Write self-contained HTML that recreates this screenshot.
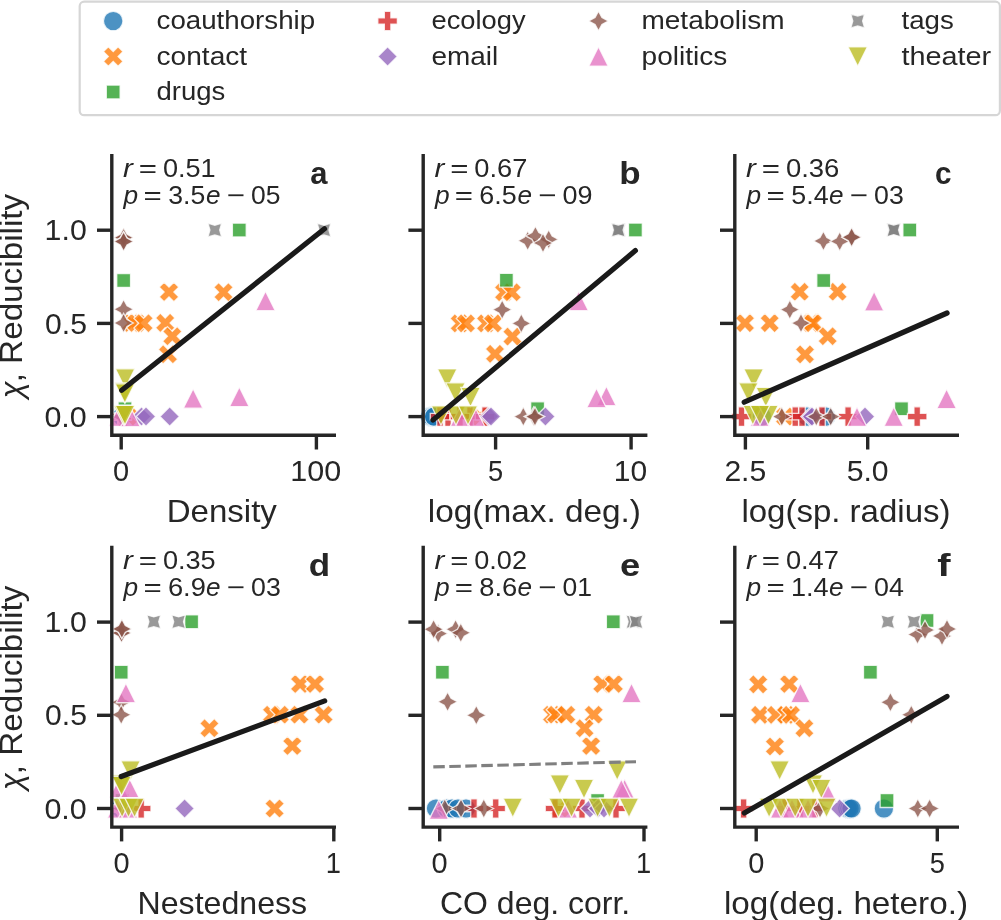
<!DOCTYPE html><html><head><meta charset="utf-8"><style>html,body{margin:0;padding:0;background:#fff;}svg{display:block;} svg text{-webkit-font-smoothing:antialiased;}text{font-family:"Liberation Sans",sans-serif;}</style></head><body>
<svg width="1001" height="920" viewBox="0 0 1001 920" style="will-change:transform">
<rect width="1001" height="920" fill="#fff"/>
<rect x="79.7" y="1.6" width="920.2" height="113.6" rx="4.5" ry="4.5" fill="#fff" stroke="#d6d6d6" stroke-width="2.2"/>
<path d="M113.20 30.75C115.79 30.75 118.27 29.72 120.09 27.89C121.92 26.07 122.95 23.59 122.95 21.00C122.95 18.41 121.92 15.93 120.09 14.11C118.27 12.28 115.79 11.25 113.20 11.25C110.61 11.25 108.13 12.28 106.31 14.11C104.48 15.93 103.45 18.41 103.45 21.00C103.45 23.59 104.48 26.07 106.31 27.89C108.13 29.72 110.61 30.75 113.20 30.75Z" fill="#1f77b4" fill-opacity="0.8" stroke="#fff" stroke-opacity="0.8" stroke-width="1.3" stroke-linejoin="miter"/>
<text x="156.58" y="29.30" font-size="25.62" textLength="158.53" lengthAdjust="spacingAndGlyphs" fill="#262626">coauthorship</text>
<path d="M108.33 66.25L113.20 61.38L118.08 66.25L122.95 61.38L118.08 56.50L122.95 51.62L118.08 46.75L113.20 51.62L108.33 46.75L103.45 51.62L108.33 56.50L103.45 61.38Z" fill="#ff7f0e" fill-opacity="0.8" stroke="#fff" stroke-opacity="0.8" stroke-width="1.3" stroke-linejoin="miter"/>
<text x="156.57" y="64.80" font-size="25.62" textLength="90.61" lengthAdjust="spacingAndGlyphs" fill="#262626">contact</text>
<path d="M106.31 85.11L106.31 98.89L120.09 98.89L120.09 85.11Z" fill="#2ca02c" fill-opacity="0.8" stroke="#fff" stroke-opacity="0.8" stroke-width="1.3" stroke-linejoin="miter"/>
<text x="156.59" y="100.30" font-size="25.62" textLength="68.75" lengthAdjust="spacingAndGlyphs" fill="#262626">drugs</text>
<path d="M384.35 30.75L390.85 30.75L390.85 24.25L397.35 24.25L397.35 17.75L390.85 17.75L390.85 11.25L384.35 11.25L384.35 17.75L377.85 17.75L377.85 24.25L384.35 24.25Z" fill="#d62728" fill-opacity="0.8" stroke="#fff" stroke-opacity="0.8" stroke-width="1.3" stroke-linejoin="miter"/>
<text x="431.50" y="29.30" font-size="25.62" textLength="94.03" lengthAdjust="spacingAndGlyphs" fill="#262626">ecology</text>
<path d="M387.60 46.75L377.85 56.50L387.60 66.25L397.35 56.50Z" fill="#9467bd" fill-opacity="0.8" stroke="#fff" stroke-opacity="0.8" stroke-width="1.3" stroke-linejoin="miter"/>
<text x="431.47" y="64.80" font-size="25.62" textLength="66.74" lengthAdjust="spacingAndGlyphs" fill="#262626">email</text>
<path d="M598.50 11.25L595.05 17.55L588.75 21.00L595.05 24.45L598.50 30.75L601.95 24.45L608.25 21.00L601.95 17.55Z" fill="#8c564b" fill-opacity="0.8" stroke="#fff" stroke-opacity="0.8" stroke-width="1.3" stroke-linejoin="miter"/>
<text x="641.49" y="29.30" font-size="25.62" textLength="143.09" lengthAdjust="spacingAndGlyphs" fill="#262626">metabolism</text>
<path d="M598.50 46.75L588.75 66.25L608.25 66.25Z" fill="#e377c2" fill-opacity="0.8" stroke="#fff" stroke-opacity="0.8" stroke-width="1.3" stroke-linejoin="miter"/>
<text x="641.62" y="64.80" font-size="25.62" textLength="85.70" lengthAdjust="spacingAndGlyphs" fill="#262626">politics</text>
<path d="M850.81 14.11L852.83 21.00L850.81 27.89L857.70 25.88L864.59 27.89L862.58 21.00L864.59 14.11L857.70 16.12Z" fill="#7f7f7f" fill-opacity="0.8" stroke="#fff" stroke-opacity="0.8" stroke-width="1.3" stroke-linejoin="miter"/>
<text x="901.50" y="29.30" font-size="25.62" textLength="52.29" lengthAdjust="spacingAndGlyphs" fill="#262626">tags</text>
<path d="M857.70 66.25L867.45 46.75L847.95 46.75Z" fill="#bcbd22" fill-opacity="0.8" stroke="#fff" stroke-opacity="0.8" stroke-width="1.3" stroke-linejoin="miter"/>
<text x="901.48" y="64.80" font-size="25.62" textLength="89.75" lengthAdjust="spacingAndGlyphs" fill="#262626">theater</text>
<path d="M119.50 426.35C122.09 426.35 124.57 425.32 126.39 423.49C128.22 421.67 129.25 419.19 129.25 416.60C129.25 414.01 128.22 411.53 126.39 409.71C124.57 407.88 122.09 406.85 119.50 406.85C116.91 406.85 114.43 407.88 112.61 409.71C110.78 411.53 109.75 414.01 109.75 416.60C109.75 419.19 110.78 421.67 112.61 423.49C114.43 425.32 116.91 426.35 119.50 426.35Z" fill="#1f77b4" fill-opacity="0.8" stroke="#fff" stroke-opacity="0.8" stroke-width="1.3" stroke-linejoin="miter"/>
<path d="M121.20 426.35C123.79 426.35 126.27 425.32 128.09 423.49C129.92 421.67 130.95 419.19 130.95 416.60C130.95 414.01 129.92 411.53 128.09 409.71C126.27 407.88 123.79 406.85 121.20 406.85C118.61 406.85 116.13 407.88 114.31 409.71C112.48 411.53 111.45 414.01 111.45 416.60C111.45 419.19 112.48 421.67 114.31 423.49C116.13 425.32 118.61 426.35 121.20 426.35Z" fill="#1f77b4" fill-opacity="0.8" stroke="#fff" stroke-opacity="0.8" stroke-width="1.3" stroke-linejoin="miter"/>
<path d="M122.50 426.35C125.09 426.35 127.57 425.32 129.39 423.49C131.22 421.67 132.25 419.19 132.25 416.60C132.25 414.01 131.22 411.53 129.39 409.71C127.57 407.88 125.09 406.85 122.50 406.85C119.91 406.85 117.43 407.88 115.61 409.71C113.78 411.53 112.75 414.01 112.75 416.60C112.75 419.19 113.78 421.67 115.61 423.49C117.43 425.32 119.91 426.35 122.50 426.35Z" fill="#1f77b4" fill-opacity="0.8" stroke="#fff" stroke-opacity="0.8" stroke-width="1.3" stroke-linejoin="miter"/>
<path d="M121.80 426.35C124.39 426.35 126.87 425.32 128.69 423.49C130.52 421.67 131.55 419.19 131.55 416.60C131.55 414.01 130.52 411.53 128.69 409.71C126.87 407.88 124.39 406.85 121.80 406.85C119.21 406.85 116.73 407.88 114.91 409.71C113.08 411.53 112.05 414.01 112.05 416.60C112.05 419.19 113.08 421.67 114.91 423.49C116.73 425.32 119.21 426.35 121.80 426.35Z" fill="#1f77b4" fill-opacity="0.8" stroke="#fff" stroke-opacity="0.8" stroke-width="1.3" stroke-linejoin="miter"/>
<path d="M164.12 301.75L169.00 296.88L173.88 301.75L178.75 296.88L173.88 292.00L178.75 287.12L173.88 282.25L169.00 287.12L164.12 282.25L159.25 287.12L164.12 292.00L159.25 296.88Z" fill="#ff7f0e" fill-opacity="0.8" stroke="#fff" stroke-opacity="0.8" stroke-width="1.3" stroke-linejoin="miter"/>
<path d="M218.62 301.95L223.50 297.07L228.38 301.95L233.25 297.07L228.38 292.20L233.25 287.32L228.38 282.45L223.50 287.32L218.62 282.45L213.75 287.32L218.62 292.20L213.75 297.07Z" fill="#ff7f0e" fill-opacity="0.8" stroke="#fff" stroke-opacity="0.8" stroke-width="1.3" stroke-linejoin="miter"/>
<path d="M126.62 332.75L131.50 327.88L136.38 332.75L141.25 327.88L136.38 323.00L141.25 318.12L136.38 313.25L131.50 318.12L126.62 313.25L121.75 318.12L126.62 323.00L121.75 327.88Z" fill="#ff7f0e" fill-opacity="0.8" stroke="#fff" stroke-opacity="0.8" stroke-width="1.3" stroke-linejoin="miter"/>
<path d="M131.53 332.75L136.40 327.88L141.28 332.75L146.15 327.88L141.28 323.00L146.15 318.12L141.28 313.25L136.40 318.12L131.53 313.25L126.65 318.12L131.53 323.00L126.65 327.88Z" fill="#ff7f0e" fill-opacity="0.8" stroke="#fff" stroke-opacity="0.8" stroke-width="1.3" stroke-linejoin="miter"/>
<path d="M138.72 332.95L143.60 328.07L148.47 332.95L153.35 328.07L148.47 323.20L153.35 318.32L148.47 313.45L143.60 318.32L138.72 313.45L133.85 318.32L138.72 323.20L133.85 328.07Z" fill="#ff7f0e" fill-opacity="0.8" stroke="#fff" stroke-opacity="0.8" stroke-width="1.3" stroke-linejoin="miter"/>
<path d="M160.32 332.65L165.20 327.77L170.07 332.65L174.95 327.77L170.07 322.90L174.95 318.02L170.07 313.15L165.20 318.02L160.32 313.15L155.45 318.02L160.32 322.90L155.45 327.77Z" fill="#ff7f0e" fill-opacity="0.8" stroke="#fff" stroke-opacity="0.8" stroke-width="1.3" stroke-linejoin="miter"/>
<path d="M167.43 346.05L172.30 341.18L177.18 346.05L182.05 341.18L177.18 336.30L182.05 331.43L177.18 326.55L172.30 331.43L167.43 326.55L162.55 331.43L167.43 336.30L162.55 341.18Z" fill="#ff7f0e" fill-opacity="0.8" stroke="#fff" stroke-opacity="0.8" stroke-width="1.3" stroke-linejoin="miter"/>
<path d="M163.12 364.05L168.00 359.18L172.88 364.05L177.75 359.18L172.88 354.30L177.75 349.43L172.88 344.55L168.00 349.43L163.12 344.55L158.25 349.43L163.12 354.30L158.25 359.18Z" fill="#ff7f0e" fill-opacity="0.8" stroke="#fff" stroke-opacity="0.8" stroke-width="1.3" stroke-linejoin="miter"/>
<path d="M123.12 426.35L128.00 421.48L132.88 426.35L137.75 421.48L132.88 416.60L137.75 411.73L132.88 406.85L128.00 411.73L123.12 406.85L118.25 411.73L123.12 416.60L118.25 421.48Z" fill="#ff7f0e" fill-opacity="0.8" stroke="#fff" stroke-opacity="0.8" stroke-width="1.3" stroke-linejoin="miter"/>
<path d="M232.41 223.21L232.41 236.99L246.19 236.99L246.19 223.21Z" fill="#2ca02c" fill-opacity="0.8" stroke="#fff" stroke-opacity="0.8" stroke-width="1.3" stroke-linejoin="miter"/>
<path d="M116.76 273.51L116.76 287.29L130.54 287.29L130.54 273.51Z" fill="#2ca02c" fill-opacity="0.8" stroke="#fff" stroke-opacity="0.8" stroke-width="1.3" stroke-linejoin="miter"/>
<path d="M118.11 401.81L118.11 415.59L131.89 415.59L131.89 401.81Z" fill="#2ca02c" fill-opacity="0.8" stroke="#fff" stroke-opacity="0.8" stroke-width="1.3" stroke-linejoin="miter"/>
<path d="M117.95 426.35L124.45 426.35L124.45 419.85L130.95 419.85L130.95 413.35L124.45 413.35L124.45 406.85L117.95 406.85L117.95 413.35L111.45 413.35L111.45 419.85L117.95 419.85Z" fill="#d62728" fill-opacity="0.8" stroke="#fff" stroke-opacity="0.8" stroke-width="1.3" stroke-linejoin="miter"/>
<path d="M118.25 426.35L124.75 426.35L124.75 419.85L131.25 419.85L131.25 413.35L124.75 413.35L124.75 406.85L118.25 406.85L118.25 413.35L111.75 413.35L111.75 419.85L118.25 419.85Z" fill="#d62728" fill-opacity="0.8" stroke="#fff" stroke-opacity="0.8" stroke-width="1.3" stroke-linejoin="miter"/>
<path d="M118.75 426.35L125.25 426.35L125.25 419.85L131.75 419.85L131.75 413.35L125.25 413.35L125.25 406.85L118.75 406.85L118.75 413.35L112.25 413.35L112.25 419.85L118.75 419.85Z" fill="#d62728" fill-opacity="0.8" stroke="#fff" stroke-opacity="0.8" stroke-width="1.3" stroke-linejoin="miter"/>
<path d="M117.75 426.35L124.25 426.35L124.25 419.85L130.75 419.85L130.75 413.35L124.25 413.35L124.25 406.85L117.75 406.85L117.75 413.35L111.25 413.35L111.25 419.85L117.75 419.85Z" fill="#d62728" fill-opacity="0.8" stroke="#fff" stroke-opacity="0.8" stroke-width="1.3" stroke-linejoin="miter"/>
<path d="M118.05 426.35L124.55 426.35L124.55 419.85L131.05 419.85L131.05 413.35L124.55 413.35L124.55 406.85L118.05 406.85L118.05 413.35L111.55 413.35L111.55 419.85L118.05 419.85Z" fill="#d62728" fill-opacity="0.8" stroke="#fff" stroke-opacity="0.8" stroke-width="1.3" stroke-linejoin="miter"/>
<path d="M118.35 426.35L124.85 426.35L124.85 419.85L131.35 419.85L131.35 413.35L124.85 413.35L124.85 406.85L118.35 406.85L118.35 413.35L111.85 413.35L111.85 419.85L118.35 419.85Z" fill="#d62728" fill-opacity="0.8" stroke="#fff" stroke-opacity="0.8" stroke-width="1.3" stroke-linejoin="miter"/>
<path d="M141.50 406.75L131.75 416.50L141.50 426.25L151.25 416.50Z" fill="#9467bd" fill-opacity="0.8" stroke="#fff" stroke-opacity="0.8" stroke-width="1.3" stroke-linejoin="miter"/>
<path d="M146.00 406.75L136.25 416.50L146.00 426.25L155.75 416.50Z" fill="#9467bd" fill-opacity="0.8" stroke="#fff" stroke-opacity="0.8" stroke-width="1.3" stroke-linejoin="miter"/>
<path d="M169.70 406.75L159.95 416.50L169.70 426.25L179.45 416.50Z" fill="#9467bd" fill-opacity="0.8" stroke="#fff" stroke-opacity="0.8" stroke-width="1.3" stroke-linejoin="miter"/>
<path d="M123.60 227.65L120.15 233.95L113.85 237.40L120.15 240.85L123.60 247.15L127.05 240.85L133.35 237.40L127.05 233.95Z" fill="#8c564b" fill-opacity="0.8" stroke="#fff" stroke-opacity="0.8" stroke-width="1.3" stroke-linejoin="miter"/>
<path d="M123.60 227.85L120.15 234.15L113.85 237.60L120.15 241.05L123.60 247.35L127.05 241.05L133.35 237.60L127.05 234.15Z" fill="#8c564b" fill-opacity="0.8" stroke="#fff" stroke-opacity="0.8" stroke-width="1.3" stroke-linejoin="miter"/>
<path d="M123.60 231.55L120.15 237.85L113.85 241.30L120.15 244.75L123.60 251.05L127.05 244.75L133.35 241.30L127.05 237.85Z" fill="#8c564b" fill-opacity="0.8" stroke="#fff" stroke-opacity="0.8" stroke-width="1.3" stroke-linejoin="miter"/>
<path d="M123.60 231.75L120.15 238.05L113.85 241.50L120.15 244.95L123.60 251.25L127.05 244.95L133.35 241.50L127.05 238.05Z" fill="#8c564b" fill-opacity="0.8" stroke="#fff" stroke-opacity="0.8" stroke-width="1.3" stroke-linejoin="miter"/>
<path d="M123.60 299.55L120.15 305.85L113.85 309.30L120.15 312.75L123.60 319.05L127.05 312.75L133.35 309.30L127.05 305.85Z" fill="#8c564b" fill-opacity="0.8" stroke="#fff" stroke-opacity="0.8" stroke-width="1.3" stroke-linejoin="miter"/>
<path d="M123.60 313.25L120.15 319.55L113.85 323.00L120.15 326.45L123.60 332.75L127.05 326.45L133.35 323.00L127.05 319.55Z" fill="#8c564b" fill-opacity="0.8" stroke="#fff" stroke-opacity="0.8" stroke-width="1.3" stroke-linejoin="miter"/>
<path d="M121.50 406.85L118.05 413.15L111.75 416.60L118.05 420.05L121.50 426.35L124.95 420.05L131.25 416.60L124.95 413.15Z" fill="#8c564b" fill-opacity="0.8" stroke="#fff" stroke-opacity="0.8" stroke-width="1.3" stroke-linejoin="miter"/>
<path d="M122.00 406.85L118.55 413.15L112.25 416.60L118.55 420.05L122.00 426.35L125.45 420.05L131.75 416.60L125.45 413.15Z" fill="#8c564b" fill-opacity="0.8" stroke="#fff" stroke-opacity="0.8" stroke-width="1.3" stroke-linejoin="miter"/>
<path d="M121.00 406.85L117.55 413.15L111.25 416.60L117.55 420.05L121.00 426.35L124.45 420.05L130.75 416.60L124.45 413.15Z" fill="#8c564b" fill-opacity="0.8" stroke="#fff" stroke-opacity="0.8" stroke-width="1.3" stroke-linejoin="miter"/>
<path d="M265.50 291.15L255.75 310.65L275.25 310.65Z" fill="#e377c2" fill-opacity="0.8" stroke="#fff" stroke-opacity="0.8" stroke-width="1.3" stroke-linejoin="miter"/>
<path d="M193.10 388.65L183.35 408.15L202.85 408.15Z" fill="#e377c2" fill-opacity="0.8" stroke="#fff" stroke-opacity="0.8" stroke-width="1.3" stroke-linejoin="miter"/>
<path d="M239.30 387.05L229.55 406.55L249.05 406.55Z" fill="#e377c2" fill-opacity="0.8" stroke="#fff" stroke-opacity="0.8" stroke-width="1.3" stroke-linejoin="miter"/>
<path d="M118.50 406.85L108.75 426.35L128.25 426.35Z" fill="#e377c2" fill-opacity="0.8" stroke="#fff" stroke-opacity="0.8" stroke-width="1.3" stroke-linejoin="miter"/>
<path d="M130.50 407.25L120.75 426.75L140.25 426.75Z" fill="#e377c2" fill-opacity="0.8" stroke="#fff" stroke-opacity="0.8" stroke-width="1.3" stroke-linejoin="miter"/>
<path d="M207.91 223.21L209.93 230.10L207.91 236.99L214.80 234.97L221.69 236.99L219.68 230.10L221.69 223.21L214.80 225.22Z" fill="#7f7f7f" fill-opacity="0.8" stroke="#fff" stroke-opacity="0.8" stroke-width="1.3" stroke-linejoin="miter"/>
<path d="M317.11 223.21L319.12 230.10L317.11 236.99L324.00 234.97L330.89 236.99L328.88 230.10L330.89 223.21L324.00 225.22Z" fill="#7f7f7f" fill-opacity="0.8" stroke="#fff" stroke-opacity="0.8" stroke-width="1.3" stroke-linejoin="miter"/>
<path d="M125.10 388.35L134.85 368.85L115.35 368.85Z" fill="#bcbd22" fill-opacity="0.8" stroke="#fff" stroke-opacity="0.8" stroke-width="1.3" stroke-linejoin="miter"/>
<path d="M124.40 402.35L134.15 382.85L114.65 382.85Z" fill="#bcbd22" fill-opacity="0.8" stroke="#fff" stroke-opacity="0.8" stroke-width="1.3" stroke-linejoin="miter"/>
<path d="M124.90 403.35L134.65 383.85L115.15 383.85Z" fill="#bcbd22" fill-opacity="0.8" stroke="#fff" stroke-opacity="0.8" stroke-width="1.3" stroke-linejoin="miter"/>
<path d="M124.40 424.95L134.15 405.45L114.65 405.45Z" fill="#bcbd22" fill-opacity="0.8" stroke="#fff" stroke-opacity="0.8" stroke-width="1.3" stroke-linejoin="miter"/>
<path d="M123.50 424.95L133.25 405.45L113.75 405.45Z" fill="#bcbd22" fill-opacity="0.8" stroke="#fff" stroke-opacity="0.8" stroke-width="1.3" stroke-linejoin="miter"/>
<path d="M125.00 424.95L134.75 405.45L115.25 405.45Z" fill="#bcbd22" fill-opacity="0.8" stroke="#fff" stroke-opacity="0.8" stroke-width="1.3" stroke-linejoin="miter"/>
<line x1="121.7" y1="390.3" x2="324.5" y2="228.8" stroke="#1a1a1a" stroke-width="5.2" stroke-linecap="round"/>
<path d="M111.8 155.6 L111.8 435.20000000000005 L334.3 435.20000000000005" fill="none" stroke="#262626" stroke-width="3.4" stroke-linecap="square" stroke-linejoin="miter"/>
<line x1="111.8" y1="416.60" x2="97.00" y2="416.60" stroke="#262626" stroke-width="3.4"/>
<text x="44.41" y="426.70" font-size="28.72" textLength="42.35" lengthAdjust="spacingAndGlyphs" fill="#262626">0.0</text>
<line x1="111.8" y1="323.40" x2="97.00" y2="323.40" stroke="#262626" stroke-width="3.4"/>
<text x="45.05" y="333.50" font-size="28.72" textLength="41.83" lengthAdjust="spacingAndGlyphs" fill="#262626">0.5</text>
<line x1="111.8" y1="230.20" x2="97.00" y2="230.20" stroke="#262626" stroke-width="3.4"/>
<text x="44.61" y="240.30" font-size="28.72" textLength="42.14" lengthAdjust="spacingAndGlyphs" fill="#262626">1.0</text>
<text x="123.04" y="176.50" font-size="25.62" font-style="italic" textLength="9.84" lengthAdjust="spacingAndGlyphs" fill="#262626">r</text>
<text x="138.80" y="176.50" font-size="25.62" textLength="18.26" lengthAdjust="spacingAndGlyphs" fill="#262626">=</text>
<text x="162.92" y="176.50" font-size="25.62" textLength="52.75" lengthAdjust="spacingAndGlyphs" fill="#262626">0.51</text>
<text x="123.62" y="203.50" font-size="25.62" font-style="italic" textLength="14.63" lengthAdjust="spacingAndGlyphs" fill="#262626">p</text>
<text x="143.40" y="203.50" font-size="25.62" textLength="18.26" lengthAdjust="spacingAndGlyphs" fill="#262626">=</text>
<text x="168.34" y="203.50" font-size="25.62" textLength="36.95" lengthAdjust="spacingAndGlyphs" fill="#262626">3.5</text>
<text x="206.03" y="203.50" font-size="25.62" font-style="italic" textLength="14.54" lengthAdjust="spacingAndGlyphs" fill="#262626">e</text>
<text x="227.00" y="203.50" font-size="25.62" textLength="18.26" lengthAdjust="spacingAndGlyphs" fill="#262626">−</text>
<text x="251.14" y="203.50" font-size="25.62" textLength="29.45" lengthAdjust="spacingAndGlyphs" fill="#262626">05</text>
<text x="310.31" y="184.00" font-size="31.50" font-weight="bold" textLength="17.26" lengthAdjust="spacingAndGlyphs" fill="#262626">a</text>
<path d="M121.20 818.25C123.79 818.25 126.27 817.22 128.09 815.39C129.92 813.57 130.95 811.09 130.95 808.50C130.95 805.91 129.92 803.43 128.09 801.61C126.27 799.78 123.79 798.75 121.20 798.75C118.61 798.75 116.13 799.78 114.31 801.61C112.48 803.43 111.45 805.91 111.45 808.50C111.45 811.09 112.48 813.57 114.31 815.39C116.13 817.22 118.61 818.25 121.20 818.25Z" fill="#1f77b4" fill-opacity="0.8" stroke="#fff" stroke-opacity="0.8" stroke-width="1.3" stroke-linejoin="miter"/>
<path d="M122.00 818.25C124.59 818.25 127.07 817.22 128.89 815.39C130.72 813.57 131.75 811.09 131.75 808.50C131.75 805.91 130.72 803.43 128.89 801.61C127.07 799.78 124.59 798.75 122.00 798.75C119.41 798.75 116.93 799.78 115.11 801.61C113.28 803.43 112.25 805.91 112.25 808.50C112.25 811.09 113.28 813.57 115.11 815.39C116.93 817.22 119.41 818.25 122.00 818.25Z" fill="#1f77b4" fill-opacity="0.8" stroke="#fff" stroke-opacity="0.8" stroke-width="1.3" stroke-linejoin="miter"/>
<path d="M120.50 818.25C123.09 818.25 125.57 817.22 127.39 815.39C129.22 813.57 130.25 811.09 130.25 808.50C130.25 805.91 129.22 803.43 127.39 801.61C125.57 799.78 123.09 798.75 120.50 798.75C117.91 798.75 115.43 799.78 113.61 801.61C111.78 803.43 110.75 805.91 110.75 808.50C110.75 811.09 111.78 813.57 113.61 815.39C115.43 817.22 117.91 818.25 120.50 818.25Z" fill="#1f77b4" fill-opacity="0.8" stroke="#fff" stroke-opacity="0.8" stroke-width="1.3" stroke-linejoin="miter"/>
<path d="M295.23 693.75L300.10 688.88L304.98 693.75L309.85 688.88L304.98 684.00L309.85 679.12L304.98 674.25L300.10 679.12L295.23 674.25L290.35 679.12L295.23 684.00L290.35 688.88Z" fill="#ff7f0e" fill-opacity="0.8" stroke="#fff" stroke-opacity="0.8" stroke-width="1.3" stroke-linejoin="miter"/>
<path d="M310.12 693.75L315.00 688.88L319.88 693.75L324.75 688.88L319.88 684.00L324.75 679.12L319.88 674.25L315.00 679.12L310.12 674.25L305.25 679.12L310.12 684.00L305.25 688.88Z" fill="#ff7f0e" fill-opacity="0.8" stroke="#fff" stroke-opacity="0.8" stroke-width="1.3" stroke-linejoin="miter"/>
<path d="M267.12 724.45L272.00 719.58L276.88 724.45L281.75 719.58L276.88 714.70L281.75 709.83L276.88 704.95L272.00 709.83L267.12 704.95L262.25 709.83L267.12 714.70L262.25 719.58Z" fill="#ff7f0e" fill-opacity="0.8" stroke="#fff" stroke-opacity="0.8" stroke-width="1.3" stroke-linejoin="miter"/>
<path d="M274.93 724.45L279.80 719.58L284.68 724.45L289.55 719.58L284.68 714.70L289.55 709.83L284.68 704.95L279.80 709.83L274.93 704.95L270.05 709.83L274.93 714.70L270.05 719.58Z" fill="#ff7f0e" fill-opacity="0.8" stroke="#fff" stroke-opacity="0.8" stroke-width="1.3" stroke-linejoin="miter"/>
<path d="M294.52 724.45L299.40 719.58L304.27 724.45L309.15 719.58L304.27 714.70L309.15 709.83L304.27 704.95L299.40 709.83L294.52 704.95L289.65 709.83L294.52 714.70L289.65 719.58Z" fill="#ff7f0e" fill-opacity="0.8" stroke="#fff" stroke-opacity="0.8" stroke-width="1.3" stroke-linejoin="miter"/>
<path d="M318.73 724.45L323.60 719.58L328.48 724.45L333.35 719.58L328.48 714.70L333.35 709.83L328.48 704.95L323.60 709.83L318.73 704.95L313.85 709.83L318.73 714.70L313.85 719.58Z" fill="#ff7f0e" fill-opacity="0.8" stroke="#fff" stroke-opacity="0.8" stroke-width="1.3" stroke-linejoin="miter"/>
<path d="M204.53 738.05L209.40 733.17L214.28 738.05L219.15 733.17L214.28 728.30L219.15 723.42L214.28 718.55L209.40 723.42L204.53 718.55L199.65 723.42L204.53 728.30L199.65 733.17Z" fill="#ff7f0e" fill-opacity="0.8" stroke="#fff" stroke-opacity="0.8" stroke-width="1.3" stroke-linejoin="miter"/>
<path d="M287.43 755.75L292.30 750.88L297.18 755.75L302.05 750.88L297.18 746.00L302.05 741.12L297.18 736.25L292.30 741.12L287.43 736.25L282.55 741.12L287.43 746.00L282.55 750.88Z" fill="#ff7f0e" fill-opacity="0.8" stroke="#fff" stroke-opacity="0.8" stroke-width="1.3" stroke-linejoin="miter"/>
<path d="M269.73 818.25L274.60 813.38L279.48 818.25L284.35 813.38L279.48 808.50L284.35 803.62L279.48 798.75L274.60 803.62L269.73 798.75L264.85 803.62L269.73 808.50L264.85 813.38Z" fill="#ff7f0e" fill-opacity="0.8" stroke="#fff" stroke-opacity="0.8" stroke-width="1.3" stroke-linejoin="miter"/>
<path d="M184.71 614.91L184.71 628.69L198.49 628.69L198.49 614.91Z" fill="#2ca02c" fill-opacity="0.8" stroke="#fff" stroke-opacity="0.8" stroke-width="1.3" stroke-linejoin="miter"/>
<path d="M114.31 665.31L114.31 679.09L128.09 679.09L128.09 665.31Z" fill="#2ca02c" fill-opacity="0.8" stroke="#fff" stroke-opacity="0.8" stroke-width="1.3" stroke-linejoin="miter"/>
<path d="M115.11 793.71L115.11 807.49L128.89 807.49L128.89 793.71Z" fill="#2ca02c" fill-opacity="0.8" stroke="#fff" stroke-opacity="0.8" stroke-width="1.3" stroke-linejoin="miter"/>
<path d="M137.95 818.25L144.45 818.25L144.45 811.75L150.95 811.75L150.95 805.25L144.45 805.25L144.45 798.75L137.95 798.75L137.95 805.25L131.45 805.25L131.45 811.75L137.95 811.75Z" fill="#d62728" fill-opacity="0.8" stroke="#fff" stroke-opacity="0.8" stroke-width="1.3" stroke-linejoin="miter"/>
<path d="M117.95 818.25L124.45 818.25L124.45 811.75L130.95 811.75L130.95 805.25L124.45 805.25L124.45 798.75L117.95 798.75L117.95 805.25L111.45 805.25L111.45 811.75L117.95 811.75Z" fill="#d62728" fill-opacity="0.8" stroke="#fff" stroke-opacity="0.8" stroke-width="1.3" stroke-linejoin="miter"/>
<path d="M118.75 818.25L125.25 818.25L125.25 811.75L131.75 811.75L131.75 805.25L125.25 805.25L125.25 798.75L118.75 798.75L118.75 805.25L112.25 805.25L112.25 811.75L118.75 811.75Z" fill="#d62728" fill-opacity="0.8" stroke="#fff" stroke-opacity="0.8" stroke-width="1.3" stroke-linejoin="miter"/>
<path d="M119.75 818.25L126.25 818.25L126.25 811.75L132.75 811.75L132.75 805.25L126.25 805.25L126.25 798.75L119.75 798.75L119.75 805.25L113.25 805.25L113.25 811.75L119.75 811.75Z" fill="#d62728" fill-opacity="0.8" stroke="#fff" stroke-opacity="0.8" stroke-width="1.3" stroke-linejoin="miter"/>
<path d="M118.25 818.25L124.75 818.25L124.75 811.75L131.25 811.75L131.25 805.25L124.75 805.25L124.75 798.75L118.25 798.75L118.25 805.25L111.75 805.25L111.75 811.75L118.25 811.75Z" fill="#d62728" fill-opacity="0.8" stroke="#fff" stroke-opacity="0.8" stroke-width="1.3" stroke-linejoin="miter"/>
<path d="M184.60 798.75L174.85 808.50L184.60 818.25L194.35 808.50Z" fill="#9467bd" fill-opacity="0.8" stroke="#fff" stroke-opacity="0.8" stroke-width="1.3" stroke-linejoin="miter"/>
<path d="M121.50 798.75L111.75 808.50L121.50 818.25L131.25 808.50Z" fill="#9467bd" fill-opacity="0.8" stroke="#fff" stroke-opacity="0.8" stroke-width="1.3" stroke-linejoin="miter"/>
<path d="M122.50 798.75L112.75 808.50L122.50 818.25L132.25 808.50Z" fill="#9467bd" fill-opacity="0.8" stroke="#fff" stroke-opacity="0.8" stroke-width="1.3" stroke-linejoin="miter"/>
<path d="M121.70 622.95L118.25 629.25L111.95 632.70L118.25 636.15L121.70 642.45L125.15 636.15L131.45 632.70L125.15 629.25Z" fill="#8c564b" fill-opacity="0.8" stroke="#fff" stroke-opacity="0.8" stroke-width="1.3" stroke-linejoin="miter"/>
<path d="M121.50 623.25L118.05 629.55L111.75 633.00L118.05 636.45L121.50 642.75L124.95 636.45L131.25 633.00L124.95 629.55Z" fill="#8c564b" fill-opacity="0.8" stroke="#fff" stroke-opacity="0.8" stroke-width="1.3" stroke-linejoin="miter"/>
<path d="M121.70 618.85L118.25 625.15L111.95 628.60L118.25 632.05L121.70 638.35L125.15 632.05L131.45 628.60L125.15 625.15Z" fill="#8c564b" fill-opacity="0.8" stroke="#fff" stroke-opacity="0.8" stroke-width="1.3" stroke-linejoin="miter"/>
<path d="M121.90 619.25L118.45 625.55L112.15 629.00L118.45 632.45L121.90 638.75L125.35 632.45L131.65 629.00L125.35 625.55Z" fill="#8c564b" fill-opacity="0.8" stroke="#fff" stroke-opacity="0.8" stroke-width="1.3" stroke-linejoin="miter"/>
<path d="M121.20 692.55L117.75 698.85L111.45 702.30L117.75 705.75L121.20 712.05L124.65 705.75L130.95 702.30L124.65 698.85Z" fill="#8c564b" fill-opacity="0.8" stroke="#fff" stroke-opacity="0.8" stroke-width="1.3" stroke-linejoin="miter"/>
<path d="M121.20 704.95L117.75 711.25L111.45 714.70L117.75 718.15L121.20 724.45L124.65 718.15L130.95 714.70L124.65 711.25Z" fill="#8c564b" fill-opacity="0.8" stroke="#fff" stroke-opacity="0.8" stroke-width="1.3" stroke-linejoin="miter"/>
<path d="M121.20 798.75L117.75 805.05L111.45 808.50L117.75 811.95L121.20 818.25L124.65 811.95L130.95 808.50L124.65 805.05Z" fill="#8c564b" fill-opacity="0.8" stroke="#fff" stroke-opacity="0.8" stroke-width="1.3" stroke-linejoin="miter"/>
<path d="M122.00 798.75L118.55 805.05L112.25 808.50L118.55 811.95L122.00 818.25L125.45 811.95L131.75 808.50L125.45 805.05Z" fill="#8c564b" fill-opacity="0.8" stroke="#fff" stroke-opacity="0.8" stroke-width="1.3" stroke-linejoin="miter"/>
<path d="M125.90 683.25L116.15 702.75L135.65 702.75Z" fill="#e377c2" fill-opacity="0.8" stroke="#fff" stroke-opacity="0.8" stroke-width="1.3" stroke-linejoin="miter"/>
<path d="M119.00 778.25L109.25 797.75L128.75 797.75Z" fill="#e377c2" fill-opacity="0.8" stroke="#fff" stroke-opacity="0.8" stroke-width="1.3" stroke-linejoin="miter"/>
<path d="M129.40 778.25L119.65 797.75L139.15 797.75Z" fill="#e377c2" fill-opacity="0.8" stroke="#fff" stroke-opacity="0.8" stroke-width="1.3" stroke-linejoin="miter"/>
<path d="M117.00 798.75L107.25 818.25L126.75 818.25Z" fill="#e377c2" fill-opacity="0.8" stroke="#fff" stroke-opacity="0.8" stroke-width="1.3" stroke-linejoin="miter"/>
<path d="M128.00 798.75L118.25 818.25L137.75 818.25Z" fill="#e377c2" fill-opacity="0.8" stroke="#fff" stroke-opacity="0.8" stroke-width="1.3" stroke-linejoin="miter"/>
<path d="M146.91 614.91L148.93 621.80L146.91 628.69L153.80 626.67L160.69 628.69L158.68 621.80L160.69 614.91L153.80 616.92Z" fill="#7f7f7f" fill-opacity="0.8" stroke="#fff" stroke-opacity="0.8" stroke-width="1.3" stroke-linejoin="miter"/>
<path d="M171.71 614.91L173.72 621.80L171.71 628.69L178.60 626.67L185.49 628.69L183.47 621.80L185.49 614.91L178.60 616.92Z" fill="#7f7f7f" fill-opacity="0.8" stroke="#fff" stroke-opacity="0.8" stroke-width="1.3" stroke-linejoin="miter"/>
<path d="M130.60 780.35L140.35 760.85L120.85 760.85Z" fill="#bcbd22" fill-opacity="0.8" stroke="#fff" stroke-opacity="0.8" stroke-width="1.3" stroke-linejoin="miter"/>
<path d="M121.20 794.25L130.95 774.75L111.45 774.75Z" fill="#bcbd22" fill-opacity="0.8" stroke="#fff" stroke-opacity="0.8" stroke-width="1.3" stroke-linejoin="miter"/>
<path d="M121.60 795.75L131.35 776.25L111.85 776.25Z" fill="#bcbd22" fill-opacity="0.8" stroke="#fff" stroke-opacity="0.8" stroke-width="1.3" stroke-linejoin="miter"/>
<path d="M122.10 817.65L131.85 798.15L112.35 798.15Z" fill="#bcbd22" fill-opacity="0.8" stroke="#fff" stroke-opacity="0.8" stroke-width="1.3" stroke-linejoin="miter"/>
<path d="M128.50 817.65L138.25 798.15L118.75 798.15Z" fill="#bcbd22" fill-opacity="0.8" stroke="#fff" stroke-opacity="0.8" stroke-width="1.3" stroke-linejoin="miter"/>
<path d="M134.60 817.65L144.35 798.15L124.85 798.15Z" fill="#bcbd22" fill-opacity="0.8" stroke="#fff" stroke-opacity="0.8" stroke-width="1.3" stroke-linejoin="miter"/>
<line x1="121.2" y1="776.5" x2="324.7" y2="700.9" stroke="#1a1a1a" stroke-width="5.2" stroke-linecap="round"/>
<path d="M111.8 547.5 L111.8 827.1 L334.3 827.1" fill="none" stroke="#262626" stroke-width="3.4" stroke-linecap="square" stroke-linejoin="miter"/>
<line x1="111.8" y1="808.50" x2="97.00" y2="808.50" stroke="#262626" stroke-width="3.4"/>
<text x="44.41" y="818.60" font-size="28.72" textLength="42.35" lengthAdjust="spacingAndGlyphs" fill="#262626">0.0</text>
<line x1="111.8" y1="715.30" x2="97.00" y2="715.30" stroke="#262626" stroke-width="3.4"/>
<text x="45.05" y="725.40" font-size="28.72" textLength="41.83" lengthAdjust="spacingAndGlyphs" fill="#262626">0.5</text>
<line x1="111.8" y1="622.10" x2="97.00" y2="622.10" stroke="#262626" stroke-width="3.4"/>
<text x="44.61" y="632.20" font-size="28.72" textLength="42.14" lengthAdjust="spacingAndGlyphs" fill="#262626">1.0</text>
<text x="123.04" y="569.00" font-size="25.62" font-style="italic" textLength="9.84" lengthAdjust="spacingAndGlyphs" fill="#262626">r</text>
<text x="138.80" y="569.00" font-size="25.62" textLength="18.26" lengthAdjust="spacingAndGlyphs" fill="#262626">=</text>
<text x="162.92" y="569.00" font-size="25.62" textLength="52.75" lengthAdjust="spacingAndGlyphs" fill="#262626">0.35</text>
<text x="123.62" y="596.00" font-size="25.62" font-style="italic" textLength="14.63" lengthAdjust="spacingAndGlyphs" fill="#262626">p</text>
<text x="143.40" y="596.00" font-size="25.62" textLength="18.26" lengthAdjust="spacingAndGlyphs" fill="#262626">=</text>
<text x="167.92" y="596.00" font-size="25.62" textLength="37.91" lengthAdjust="spacingAndGlyphs" fill="#262626">6.9</text>
<text x="206.03" y="596.00" font-size="25.62" font-style="italic" textLength="14.54" lengthAdjust="spacingAndGlyphs" fill="#262626">e</text>
<text x="227.00" y="596.00" font-size="25.62" textLength="18.26" lengthAdjust="spacingAndGlyphs" fill="#262626">−</text>
<text x="251.13" y="596.00" font-size="25.62" textLength="29.72" lengthAdjust="spacingAndGlyphs" fill="#262626">03</text>
<text x="308.79" y="576.20" font-size="31.50" font-weight="bold" textLength="21.36" lengthAdjust="spacingAndGlyphs" fill="#262626">d</text>
<path d="M430.00 426.35C432.59 426.35 435.07 425.32 436.89 423.49C438.72 421.67 439.75 419.19 439.75 416.60C439.75 414.01 438.72 411.53 436.89 409.71C435.07 407.88 432.59 406.85 430.00 406.85C427.41 406.85 424.93 407.88 423.11 409.71C421.28 411.53 420.25 414.01 420.25 416.60C420.25 419.19 421.28 421.67 423.11 423.49C424.93 425.32 427.41 426.35 430.00 426.35Z" fill="#1f77b4" fill-opacity="0.8" stroke="#fff" stroke-opacity="0.8" stroke-width="1.3" stroke-linejoin="miter"/>
<path d="M432.00 426.35C434.59 426.35 437.07 425.32 438.89 423.49C440.72 421.67 441.75 419.19 441.75 416.60C441.75 414.01 440.72 411.53 438.89 409.71C437.07 407.88 434.59 406.85 432.00 406.85C429.41 406.85 426.93 407.88 425.11 409.71C423.28 411.53 422.25 414.01 422.25 416.60C422.25 419.19 423.28 421.67 425.11 423.49C426.93 425.32 429.41 426.35 432.00 426.35Z" fill="#1f77b4" fill-opacity="0.8" stroke="#fff" stroke-opacity="0.8" stroke-width="1.3" stroke-linejoin="miter"/>
<path d="M434.00 426.35C436.59 426.35 439.07 425.32 440.89 423.49C442.72 421.67 443.75 419.19 443.75 416.60C443.75 414.01 442.72 411.53 440.89 409.71C439.07 407.88 436.59 406.85 434.00 406.85C431.41 406.85 428.93 407.88 427.11 409.71C425.28 411.53 424.25 414.01 424.25 416.60C424.25 419.19 425.28 421.67 427.11 423.49C428.93 425.32 431.41 426.35 434.00 426.35Z" fill="#1f77b4" fill-opacity="0.8" stroke="#fff" stroke-opacity="0.8" stroke-width="1.3" stroke-linejoin="miter"/>
<path d="M499.12 302.05L504.00 297.18L508.88 302.05L513.75 297.18L508.88 292.30L513.75 287.43L508.88 282.55L504.00 287.43L499.12 282.55L494.25 287.43L499.12 292.30L494.25 297.18Z" fill="#ff7f0e" fill-opacity="0.8" stroke="#fff" stroke-opacity="0.8" stroke-width="1.3" stroke-linejoin="miter"/>
<path d="M506.93 302.05L511.80 297.18L516.67 302.05L521.55 297.18L516.67 292.30L521.55 287.43L516.67 282.55L511.80 287.43L506.93 282.55L502.05 287.43L506.93 292.30L502.05 297.18Z" fill="#ff7f0e" fill-opacity="0.8" stroke="#fff" stroke-opacity="0.8" stroke-width="1.3" stroke-linejoin="miter"/>
<path d="M454.82 333.15L459.70 328.27L464.57 333.15L469.45 328.27L464.57 323.40L469.45 318.52L464.57 313.65L459.70 318.52L454.82 313.65L449.95 318.52L454.82 323.40L449.95 328.27Z" fill="#ff7f0e" fill-opacity="0.8" stroke="#fff" stroke-opacity="0.8" stroke-width="1.3" stroke-linejoin="miter"/>
<path d="M461.12 333.15L466.00 328.27L470.88 333.15L475.75 328.27L470.88 323.40L475.75 318.52L470.88 313.65L466.00 318.52L461.12 313.65L456.25 318.52L461.12 323.40L456.25 328.27Z" fill="#ff7f0e" fill-opacity="0.8" stroke="#fff" stroke-opacity="0.8" stroke-width="1.3" stroke-linejoin="miter"/>
<path d="M481.12 333.15L486.00 328.27L490.88 333.15L495.75 328.27L490.88 323.40L495.75 318.52L490.88 313.65L486.00 318.52L481.12 313.65L476.25 318.52L481.12 323.40L476.25 328.27Z" fill="#ff7f0e" fill-opacity="0.8" stroke="#fff" stroke-opacity="0.8" stroke-width="1.3" stroke-linejoin="miter"/>
<path d="M488.12 333.15L493.00 328.27L497.88 333.15L502.75 328.27L497.88 323.40L502.75 318.52L497.88 313.65L493.00 318.52L488.12 313.65L483.25 318.52L488.12 323.40L483.25 328.27Z" fill="#ff7f0e" fill-opacity="0.8" stroke="#fff" stroke-opacity="0.8" stroke-width="1.3" stroke-linejoin="miter"/>
<path d="M507.52 346.35L512.40 341.48L517.27 346.35L522.15 341.48L517.27 336.60L522.15 331.73L517.27 326.85L512.40 331.73L507.52 326.85L502.65 331.73L507.52 336.60L502.65 341.48Z" fill="#ff7f0e" fill-opacity="0.8" stroke="#fff" stroke-opacity="0.8" stroke-width="1.3" stroke-linejoin="miter"/>
<path d="M490.12 363.65L495.00 358.77L499.88 363.65L504.75 358.77L499.88 353.90L504.75 349.02L499.88 344.15L495.00 349.02L490.12 344.15L485.25 349.02L490.12 353.90L485.25 358.77Z" fill="#ff7f0e" fill-opacity="0.8" stroke="#fff" stroke-opacity="0.8" stroke-width="1.3" stroke-linejoin="miter"/>
<path d="M475.12 426.35L480.00 421.48L484.88 426.35L489.75 421.48L484.88 416.60L489.75 411.73L484.88 406.85L480.00 411.73L475.12 406.85L470.25 411.73L475.12 416.60L470.25 421.48Z" fill="#ff7f0e" fill-opacity="0.8" stroke="#fff" stroke-opacity="0.8" stroke-width="1.3" stroke-linejoin="miter"/>
<path d="M628.51 223.11L628.51 236.89L642.29 236.89L642.29 223.11Z" fill="#2ca02c" fill-opacity="0.8" stroke="#fff" stroke-opacity="0.8" stroke-width="1.3" stroke-linejoin="miter"/>
<path d="M499.51 273.41L499.51 287.19L513.29 287.19L513.29 273.41Z" fill="#2ca02c" fill-opacity="0.8" stroke="#fff" stroke-opacity="0.8" stroke-width="1.3" stroke-linejoin="miter"/>
<path d="M530.71 401.81L530.71 415.59L544.49 415.59L544.49 401.81Z" fill="#2ca02c" fill-opacity="0.8" stroke="#fff" stroke-opacity="0.8" stroke-width="1.3" stroke-linejoin="miter"/>
<path d="M444.75 426.35L451.25 426.35L451.25 419.85L457.75 419.85L457.75 413.35L451.25 413.35L451.25 406.85L444.75 406.85L444.75 413.35L438.25 413.35L438.25 419.85L444.75 419.85Z" fill="#d62728" fill-opacity="0.8" stroke="#fff" stroke-opacity="0.8" stroke-width="1.3" stroke-linejoin="miter"/>
<path d="M466.75 426.35L473.25 426.35L473.25 419.85L479.75 419.85L479.75 413.35L473.25 413.35L473.25 406.85L466.75 406.85L466.75 413.35L460.25 413.35L460.25 419.85L466.75 419.85Z" fill="#d62728" fill-opacity="0.8" stroke="#fff" stroke-opacity="0.8" stroke-width="1.3" stroke-linejoin="miter"/>
<path d="M481.75 426.35L488.25 426.35L488.25 419.85L494.75 419.85L494.75 413.35L488.25 413.35L488.25 406.85L481.75 406.85L481.75 413.35L475.25 413.35L475.25 419.85L481.75 419.85Z" fill="#d62728" fill-opacity="0.8" stroke="#fff" stroke-opacity="0.8" stroke-width="1.3" stroke-linejoin="miter"/>
<path d="M436.75 426.35L443.25 426.35L443.25 419.85L449.75 419.85L449.75 413.35L443.25 413.35L443.25 406.85L436.75 406.85L436.75 413.35L430.25 413.35L430.25 419.85L436.75 419.85Z" fill="#d62728" fill-opacity="0.8" stroke="#fff" stroke-opacity="0.8" stroke-width="1.3" stroke-linejoin="miter"/>
<path d="M456.75 426.35L463.25 426.35L463.25 419.85L469.75 419.85L469.75 413.35L463.25 413.35L463.25 406.85L456.75 406.85L456.75 413.35L450.25 413.35L450.25 419.85L456.75 419.85Z" fill="#d62728" fill-opacity="0.8" stroke="#fff" stroke-opacity="0.8" stroke-width="1.3" stroke-linejoin="miter"/>
<path d="M489.00 406.75L479.25 416.50L489.00 426.25L498.75 416.50Z" fill="#9467bd" fill-opacity="0.8" stroke="#fff" stroke-opacity="0.8" stroke-width="1.3" stroke-linejoin="miter"/>
<path d="M491.00 406.75L481.25 416.50L491.00 426.25L500.75 416.50Z" fill="#9467bd" fill-opacity="0.8" stroke="#fff" stroke-opacity="0.8" stroke-width="1.3" stroke-linejoin="miter"/>
<path d="M545.40 406.75L535.65 416.50L545.40 426.25L555.15 416.50Z" fill="#9467bd" fill-opacity="0.8" stroke="#fff" stroke-opacity="0.8" stroke-width="1.3" stroke-linejoin="miter"/>
<path d="M527.70 231.05L524.25 237.35L517.95 240.80L524.25 244.25L527.70 250.55L531.15 244.25L537.45 240.80L531.15 237.35Z" fill="#8c564b" fill-opacity="0.8" stroke="#fff" stroke-opacity="0.8" stroke-width="1.3" stroke-linejoin="miter"/>
<path d="M535.40 226.15L531.95 232.45L525.65 235.90L531.95 239.35L535.40 245.65L538.85 239.35L545.15 235.90L538.85 232.45Z" fill="#8c564b" fill-opacity="0.8" stroke="#fff" stroke-opacity="0.8" stroke-width="1.3" stroke-linejoin="miter"/>
<path d="M548.70 229.65L545.25 235.95L538.95 239.40L545.25 242.85L548.70 249.15L552.15 242.85L558.45 239.40L552.15 235.95Z" fill="#8c564b" fill-opacity="0.8" stroke="#fff" stroke-opacity="0.8" stroke-width="1.3" stroke-linejoin="miter"/>
<path d="M543.00 233.25L539.55 239.55L533.25 243.00L539.55 246.45L543.00 252.75L546.45 246.45L552.75 243.00L546.45 239.55Z" fill="#8c564b" fill-opacity="0.8" stroke="#fff" stroke-opacity="0.8" stroke-width="1.3" stroke-linejoin="miter"/>
<path d="M502.20 299.85L498.75 306.15L492.45 309.60L498.75 313.05L502.20 319.35L505.65 313.05L511.95 309.60L505.65 306.15Z" fill="#8c564b" fill-opacity="0.8" stroke="#fff" stroke-opacity="0.8" stroke-width="1.3" stroke-linejoin="miter"/>
<path d="M521.30 313.65L517.85 319.95L511.55 323.40L517.85 326.85L521.30 333.15L524.75 326.85L531.05 323.40L524.75 319.95Z" fill="#8c564b" fill-opacity="0.8" stroke="#fff" stroke-opacity="0.8" stroke-width="1.3" stroke-linejoin="miter"/>
<path d="M523.30 406.85L519.85 413.15L513.55 416.60L519.85 420.05L523.30 426.35L526.75 420.05L533.05 416.60L526.75 413.15Z" fill="#8c564b" fill-opacity="0.8" stroke="#fff" stroke-opacity="0.8" stroke-width="1.3" stroke-linejoin="miter"/>
<path d="M533.70 406.85L530.25 413.15L523.95 416.60L530.25 420.05L533.70 426.35L537.15 420.05L543.45 416.60L537.15 413.15Z" fill="#8c564b" fill-opacity="0.8" stroke="#fff" stroke-opacity="0.8" stroke-width="1.3" stroke-linejoin="miter"/>
<path d="M535.00 406.85L531.55 413.15L525.25 416.60L531.55 420.05L535.00 426.35L538.45 420.05L544.75 416.60L538.45 413.15Z" fill="#8c564b" fill-opacity="0.8" stroke="#fff" stroke-opacity="0.8" stroke-width="1.3" stroke-linejoin="miter"/>
<path d="M578.70 291.15L568.95 310.65L588.45 310.65Z" fill="#e377c2" fill-opacity="0.8" stroke="#fff" stroke-opacity="0.8" stroke-width="1.3" stroke-linejoin="miter"/>
<path d="M606.40 386.15L596.65 405.65L616.15 405.65Z" fill="#e377c2" fill-opacity="0.8" stroke="#fff" stroke-opacity="0.8" stroke-width="1.3" stroke-linejoin="miter"/>
<path d="M596.50 388.15L586.75 407.65L606.25 407.65Z" fill="#e377c2" fill-opacity="0.8" stroke="#fff" stroke-opacity="0.8" stroke-width="1.3" stroke-linejoin="miter"/>
<path d="M475.00 406.85L465.25 426.35L484.75 426.35Z" fill="#e377c2" fill-opacity="0.8" stroke="#fff" stroke-opacity="0.8" stroke-width="1.3" stroke-linejoin="miter"/>
<path d="M460.00 406.85L450.25 426.35L469.75 426.35Z" fill="#e377c2" fill-opacity="0.8" stroke="#fff" stroke-opacity="0.8" stroke-width="1.3" stroke-linejoin="miter"/>
<path d="M612.11 223.11L614.12 230.00L612.11 236.89L619.00 234.88L625.89 236.89L623.88 230.00L625.89 223.11L619.00 225.12Z" fill="#7f7f7f" fill-opacity="0.8" stroke="#fff" stroke-opacity="0.8" stroke-width="1.3" stroke-linejoin="miter"/>
<path d="M611.31 223.11L613.33 230.00L611.31 236.89L618.20 234.88L625.09 236.89L623.08 230.00L625.09 223.11L618.20 225.12Z" fill="#7f7f7f" fill-opacity="0.8" stroke="#fff" stroke-opacity="0.8" stroke-width="1.3" stroke-linejoin="miter"/>
<path d="M447.20 388.45L456.95 368.95L437.45 368.95Z" fill="#bcbd22" fill-opacity="0.8" stroke="#fff" stroke-opacity="0.8" stroke-width="1.3" stroke-linejoin="miter"/>
<path d="M455.50 402.35L465.25 382.85L445.75 382.85Z" fill="#bcbd22" fill-opacity="0.8" stroke="#fff" stroke-opacity="0.8" stroke-width="1.3" stroke-linejoin="miter"/>
<path d="M470.50 406.95L480.25 387.45L460.75 387.45Z" fill="#bcbd22" fill-opacity="0.8" stroke="#fff" stroke-opacity="0.8" stroke-width="1.3" stroke-linejoin="miter"/>
<path d="M441.00 425.25L450.75 405.75L431.25 405.75Z" fill="#bcbd22" fill-opacity="0.8" stroke="#fff" stroke-opacity="0.8" stroke-width="1.3" stroke-linejoin="miter"/>
<path d="M456.00 425.25L465.75 405.75L446.25 405.75Z" fill="#bcbd22" fill-opacity="0.8" stroke="#fff" stroke-opacity="0.8" stroke-width="1.3" stroke-linejoin="miter"/>
<path d="M468.00 425.25L477.75 405.75L458.25 405.75Z" fill="#bcbd22" fill-opacity="0.8" stroke="#fff" stroke-opacity="0.8" stroke-width="1.3" stroke-linejoin="miter"/>
<line x1="433" y1="420" x2="635.4" y2="250.6" stroke="#1a1a1a" stroke-width="5.2" stroke-linecap="round"/>
<path d="M423.2 155.6 L423.2 435.20000000000005 L645.7 435.20000000000005" fill="none" stroke="#262626" stroke-width="3.4" stroke-linecap="square" stroke-linejoin="miter"/>
<line x1="423.2" y1="416.60" x2="408.40" y2="416.60" stroke="#262626" stroke-width="3.4"/>
<line x1="423.2" y1="323.40" x2="408.40" y2="323.40" stroke="#262626" stroke-width="3.4"/>
<line x1="423.2" y1="230.20" x2="408.40" y2="230.20" stroke="#262626" stroke-width="3.4"/>
<text x="434.44" y="176.50" font-size="25.62" font-style="italic" textLength="9.84" lengthAdjust="spacingAndGlyphs" fill="#262626">r</text>
<text x="450.20" y="176.50" font-size="25.62" textLength="18.26" lengthAdjust="spacingAndGlyphs" fill="#262626">=</text>
<text x="474.31" y="176.50" font-size="25.62" textLength="53.02" lengthAdjust="spacingAndGlyphs" fill="#262626">0.67</text>
<text x="435.02" y="203.50" font-size="25.62" font-style="italic" textLength="14.63" lengthAdjust="spacingAndGlyphs" fill="#262626">p</text>
<text x="454.80" y="203.50" font-size="25.62" textLength="18.26" lengthAdjust="spacingAndGlyphs" fill="#262626">=</text>
<text x="479.34" y="203.50" font-size="25.62" textLength="37.36" lengthAdjust="spacingAndGlyphs" fill="#262626">6.5</text>
<text x="517.43" y="203.50" font-size="25.62" font-style="italic" textLength="14.54" lengthAdjust="spacingAndGlyphs" fill="#262626">e</text>
<text x="538.40" y="203.50" font-size="25.62" textLength="18.26" lengthAdjust="spacingAndGlyphs" fill="#262626">−</text>
<text x="562.52" y="203.50" font-size="25.62" textLength="30.00" lengthAdjust="spacingAndGlyphs" fill="#262626">09</text>
<text x="619.22" y="184.00" font-size="31.50" font-weight="bold" textLength="21.36" lengthAdjust="spacingAndGlyphs" fill="#262626">b</text>
<path d="M436.00 818.25C438.59 818.25 441.07 817.22 442.89 815.39C444.72 813.57 445.75 811.09 445.75 808.50C445.75 805.91 444.72 803.43 442.89 801.61C441.07 799.78 438.59 798.75 436.00 798.75C433.41 798.75 430.93 799.78 429.11 801.61C427.28 803.43 426.25 805.91 426.25 808.50C426.25 811.09 427.28 813.57 429.11 815.39C430.93 817.22 433.41 818.25 436.00 818.25Z" fill="#1f77b4" fill-opacity="0.8" stroke="#fff" stroke-opacity="0.8" stroke-width="1.3" stroke-linejoin="miter"/>
<path d="M447.00 818.25C449.59 818.25 452.07 817.22 453.89 815.39C455.72 813.57 456.75 811.09 456.75 808.50C456.75 805.91 455.72 803.43 453.89 801.61C452.07 799.78 449.59 798.75 447.00 798.75C444.41 798.75 441.93 799.78 440.11 801.61C438.28 803.43 437.25 805.91 437.25 808.50C437.25 811.09 438.28 813.57 440.11 815.39C441.93 817.22 444.41 818.25 447.00 818.25Z" fill="#1f77b4" fill-opacity="0.8" stroke="#fff" stroke-opacity="0.8" stroke-width="1.3" stroke-linejoin="miter"/>
<path d="M452.00 818.25C454.59 818.25 457.07 817.22 458.89 815.39C460.72 813.57 461.75 811.09 461.75 808.50C461.75 805.91 460.72 803.43 458.89 801.61C457.07 799.78 454.59 798.75 452.00 798.75C449.41 798.75 446.93 799.78 445.11 801.61C443.28 803.43 442.25 805.91 442.25 808.50C442.25 811.09 443.28 813.57 445.11 815.39C446.93 817.22 449.41 818.25 452.00 818.25Z" fill="#1f77b4" fill-opacity="0.8" stroke="#fff" stroke-opacity="0.8" stroke-width="1.3" stroke-linejoin="miter"/>
<path d="M458.00 818.25C460.59 818.25 463.07 817.22 464.89 815.39C466.72 813.57 467.75 811.09 467.75 808.50C467.75 805.91 466.72 803.43 464.89 801.61C463.07 799.78 460.59 798.75 458.00 798.75C455.41 798.75 452.93 799.78 451.11 801.61C449.28 803.43 448.25 805.91 448.25 808.50C448.25 811.09 449.28 813.57 451.11 815.39C452.93 817.22 455.41 818.25 458.00 818.25Z" fill="#1f77b4" fill-opacity="0.8" stroke="#fff" stroke-opacity="0.8" stroke-width="1.3" stroke-linejoin="miter"/>
<path d="M466.00 818.25C468.59 818.25 471.07 817.22 472.89 815.39C474.72 813.57 475.75 811.09 475.75 808.50C475.75 805.91 474.72 803.43 472.89 801.61C471.07 799.78 468.59 798.75 466.00 798.75C463.41 798.75 460.93 799.78 459.11 801.61C457.28 803.43 456.25 805.91 456.25 808.50C456.25 811.09 457.28 813.57 459.11 815.39C460.93 817.22 463.41 818.25 466.00 818.25Z" fill="#1f77b4" fill-opacity="0.8" stroke="#fff" stroke-opacity="0.8" stroke-width="1.3" stroke-linejoin="miter"/>
<path d="M597.42 693.75L602.30 688.88L607.17 693.75L612.05 688.88L607.17 684.00L612.05 679.12L607.17 674.25L602.30 679.12L597.42 674.25L592.55 679.12L597.42 684.00L592.55 688.88Z" fill="#ff7f0e" fill-opacity="0.8" stroke="#fff" stroke-opacity="0.8" stroke-width="1.3" stroke-linejoin="miter"/>
<path d="M608.92 693.75L613.80 688.88L618.67 693.75L623.55 688.88L618.67 684.00L623.55 679.12L618.67 674.25L613.80 679.12L608.92 674.25L604.05 679.12L608.92 684.00L604.05 688.88Z" fill="#ff7f0e" fill-opacity="0.8" stroke="#fff" stroke-opacity="0.8" stroke-width="1.3" stroke-linejoin="miter"/>
<path d="M547.12 724.45L552.00 719.58L556.88 724.45L561.75 719.58L556.88 714.70L561.75 709.83L556.88 704.95L552.00 709.83L547.12 704.95L542.25 709.83L547.12 714.70L542.25 719.58Z" fill="#ff7f0e" fill-opacity="0.8" stroke="#fff" stroke-opacity="0.8" stroke-width="1.3" stroke-linejoin="miter"/>
<path d="M551.12 724.45L556.00 719.58L560.88 724.45L565.75 719.58L560.88 714.70L565.75 709.83L560.88 704.95L556.00 709.83L551.12 704.95L546.25 709.83L551.12 714.70L546.25 719.58Z" fill="#ff7f0e" fill-opacity="0.8" stroke="#fff" stroke-opacity="0.8" stroke-width="1.3" stroke-linejoin="miter"/>
<path d="M561.42 724.45L566.30 719.58L571.17 724.45L576.05 719.58L571.17 714.70L576.05 709.83L571.17 704.95L566.30 709.83L561.42 704.95L556.55 709.83L561.42 714.70L556.55 719.58Z" fill="#ff7f0e" fill-opacity="0.8" stroke="#fff" stroke-opacity="0.8" stroke-width="1.3" stroke-linejoin="miter"/>
<path d="M588.83 724.45L593.70 719.58L598.58 724.45L603.45 719.58L598.58 714.70L603.45 709.83L598.58 704.95L593.70 709.83L588.83 704.95L583.95 709.83L588.83 714.70L583.95 719.58Z" fill="#ff7f0e" fill-opacity="0.8" stroke="#fff" stroke-opacity="0.8" stroke-width="1.3" stroke-linejoin="miter"/>
<path d="M579.73 738.05L584.60 733.17L589.48 738.05L594.35 733.17L589.48 728.30L594.35 723.42L589.48 718.55L584.60 723.42L579.73 718.55L574.85 723.42L579.73 728.30L574.85 733.17Z" fill="#ff7f0e" fill-opacity="0.8" stroke="#fff" stroke-opacity="0.8" stroke-width="1.3" stroke-linejoin="miter"/>
<path d="M586.23 755.75L591.10 750.88L595.98 755.75L600.85 750.88L595.98 746.00L600.85 741.12L595.98 736.25L591.10 741.12L586.23 736.25L581.35 741.12L586.23 746.00L581.35 750.88Z" fill="#ff7f0e" fill-opacity="0.8" stroke="#fff" stroke-opacity="0.8" stroke-width="1.3" stroke-linejoin="miter"/>
<path d="M555.12 818.25L560.00 813.38L564.88 818.25L569.75 813.38L564.88 808.50L569.75 803.62L564.88 798.75L560.00 803.62L555.12 798.75L550.25 803.62L555.12 808.50L550.25 813.38Z" fill="#ff7f0e" fill-opacity="0.8" stroke="#fff" stroke-opacity="0.8" stroke-width="1.3" stroke-linejoin="miter"/>
<path d="M606.41 614.91L606.41 628.69L620.19 628.69L620.19 614.91Z" fill="#2ca02c" fill-opacity="0.8" stroke="#fff" stroke-opacity="0.8" stroke-width="1.3" stroke-linejoin="miter"/>
<path d="M435.51 665.31L435.51 679.09L449.29 679.09L449.29 665.31Z" fill="#2ca02c" fill-opacity="0.8" stroke="#fff" stroke-opacity="0.8" stroke-width="1.3" stroke-linejoin="miter"/>
<path d="M590.71 793.71L590.71 807.49L604.49 807.49L604.49 793.71Z" fill="#2ca02c" fill-opacity="0.8" stroke="#fff" stroke-opacity="0.8" stroke-width="1.3" stroke-linejoin="miter"/>
<path d="M470.75 818.25L477.25 818.25L477.25 811.75L483.75 811.75L483.75 805.25L477.25 805.25L477.25 798.75L470.75 798.75L470.75 805.25L464.25 805.25L464.25 811.75L470.75 811.75Z" fill="#d62728" fill-opacity="0.8" stroke="#fff" stroke-opacity="0.8" stroke-width="1.3" stroke-linejoin="miter"/>
<path d="M492.45 818.25L498.95 818.25L498.95 811.75L505.45 811.75L505.45 805.25L498.95 805.25L498.95 798.75L492.45 798.75L492.45 805.25L485.95 805.25L485.95 811.75L492.45 811.75Z" fill="#d62728" fill-opacity="0.8" stroke="#fff" stroke-opacity="0.8" stroke-width="1.3" stroke-linejoin="miter"/>
<path d="M551.75 818.25L558.25 818.25L558.25 811.75L564.75 811.75L564.75 805.25L558.25 805.25L558.25 798.75L551.75 798.75L551.75 805.25L545.25 805.25L545.25 811.75L551.75 811.75Z" fill="#d62728" fill-opacity="0.8" stroke="#fff" stroke-opacity="0.8" stroke-width="1.3" stroke-linejoin="miter"/>
<path d="M578.75 818.25L585.25 818.25L585.25 811.75L591.75 811.75L591.75 805.25L585.25 805.25L585.25 798.75L578.75 798.75L578.75 805.25L572.25 805.25L572.25 811.75L578.75 811.75Z" fill="#d62728" fill-opacity="0.8" stroke="#fff" stroke-opacity="0.8" stroke-width="1.3" stroke-linejoin="miter"/>
<path d="M612.75 818.25L619.25 818.25L619.25 811.75L625.75 811.75L625.75 805.25L619.25 805.25L619.25 798.75L612.75 798.75L612.75 805.25L606.25 805.25L606.25 811.75L612.75 811.75Z" fill="#d62728" fill-opacity="0.8" stroke="#fff" stroke-opacity="0.8" stroke-width="1.3" stroke-linejoin="miter"/>
<path d="M590.00 798.75L580.25 808.50L590.00 818.25L599.75 808.50Z" fill="#9467bd" fill-opacity="0.8" stroke="#fff" stroke-opacity="0.8" stroke-width="1.3" stroke-linejoin="miter"/>
<path d="M598.00 798.75L588.25 808.50L598.00 818.25L607.75 808.50Z" fill="#9467bd" fill-opacity="0.8" stroke="#fff" stroke-opacity="0.8" stroke-width="1.3" stroke-linejoin="miter"/>
<path d="M604.00 798.75L594.25 808.50L604.00 818.25L613.75 808.50Z" fill="#9467bd" fill-opacity="0.8" stroke="#fff" stroke-opacity="0.8" stroke-width="1.3" stroke-linejoin="miter"/>
<path d="M438.20 623.85L434.75 630.15L428.45 633.60L434.75 637.05L438.20 643.35L441.65 637.05L447.95 633.60L441.65 630.15Z" fill="#8c564b" fill-opacity="0.8" stroke="#fff" stroke-opacity="0.8" stroke-width="1.3" stroke-linejoin="miter"/>
<path d="M433.60 619.45L430.15 625.75L423.85 629.20L430.15 632.65L433.60 638.95L437.05 632.65L443.35 629.20L437.05 625.75Z" fill="#8c564b" fill-opacity="0.8" stroke="#fff" stroke-opacity="0.8" stroke-width="1.3" stroke-linejoin="miter"/>
<path d="M455.60 619.45L452.15 625.75L445.85 629.20L452.15 632.65L455.60 638.95L459.05 632.65L465.35 629.20L459.05 625.75Z" fill="#8c564b" fill-opacity="0.8" stroke="#fff" stroke-opacity="0.8" stroke-width="1.3" stroke-linejoin="miter"/>
<path d="M460.80 623.05L457.35 629.35L451.05 632.80L457.35 636.25L460.80 642.55L464.25 636.25L470.55 632.80L464.25 629.35Z" fill="#8c564b" fill-opacity="0.8" stroke="#fff" stroke-opacity="0.8" stroke-width="1.3" stroke-linejoin="miter"/>
<path d="M447.60 691.95L444.15 698.25L437.85 701.70L444.15 705.15L447.60 711.45L451.05 705.15L457.35 701.70L451.05 698.25Z" fill="#8c564b" fill-opacity="0.8" stroke="#fff" stroke-opacity="0.8" stroke-width="1.3" stroke-linejoin="miter"/>
<path d="M476.30 705.45L472.85 711.75L466.55 715.20L472.85 718.65L476.30 724.95L479.75 718.65L486.05 715.20L479.75 711.75Z" fill="#8c564b" fill-opacity="0.8" stroke="#fff" stroke-opacity="0.8" stroke-width="1.3" stroke-linejoin="miter"/>
<path d="M444.80 798.75L441.35 805.05L435.05 808.50L441.35 811.95L444.80 818.25L448.25 811.95L454.55 808.50L448.25 805.05Z" fill="#8c564b" fill-opacity="0.8" stroke="#fff" stroke-opacity="0.8" stroke-width="1.3" stroke-linejoin="miter"/>
<path d="M461.00 798.75L457.55 805.05L451.25 808.50L457.55 811.95L461.00 818.25L464.45 811.95L470.75 808.50L464.45 805.05Z" fill="#8c564b" fill-opacity="0.8" stroke="#fff" stroke-opacity="0.8" stroke-width="1.3" stroke-linejoin="miter"/>
<path d="M483.80 798.75L480.35 805.05L474.05 808.50L480.35 811.95L483.80 818.25L487.25 811.95L493.55 808.50L487.25 805.05Z" fill="#8c564b" fill-opacity="0.8" stroke="#fff" stroke-opacity="0.8" stroke-width="1.3" stroke-linejoin="miter"/>
<path d="M631.50 683.25L621.75 702.75L641.25 702.75Z" fill="#e377c2" fill-opacity="0.8" stroke="#fff" stroke-opacity="0.8" stroke-width="1.3" stroke-linejoin="miter"/>
<path d="M624.60 778.85L614.85 798.35L634.35 798.35Z" fill="#e377c2" fill-opacity="0.8" stroke="#fff" stroke-opacity="0.8" stroke-width="1.3" stroke-linejoin="miter"/>
<path d="M621.30 779.25L611.55 798.75L631.05 798.75Z" fill="#e377c2" fill-opacity="0.8" stroke="#fff" stroke-opacity="0.8" stroke-width="1.3" stroke-linejoin="miter"/>
<path d="M438.80 799.85L429.05 819.35L448.55 819.35Z" fill="#e377c2" fill-opacity="0.8" stroke="#fff" stroke-opacity="0.8" stroke-width="1.3" stroke-linejoin="miter"/>
<path d="M568.00 798.75L558.25 818.25L577.75 818.25Z" fill="#e377c2" fill-opacity="0.8" stroke="#fff" stroke-opacity="0.8" stroke-width="1.3" stroke-linejoin="miter"/>
<path d="M626.11 614.91L628.12 621.80L626.11 628.69L633.00 626.67L639.89 628.69L637.88 621.80L639.89 614.91L633.00 616.92Z" fill="#7f7f7f" fill-opacity="0.8" stroke="#fff" stroke-opacity="0.8" stroke-width="1.3" stroke-linejoin="miter"/>
<path d="M629.11 614.91L631.12 621.80L629.11 628.69L636.00 626.67L642.89 628.69L640.88 621.80L642.89 614.91L636.00 616.92Z" fill="#7f7f7f" fill-opacity="0.8" stroke="#fff" stroke-opacity="0.8" stroke-width="1.3" stroke-linejoin="miter"/>
<path d="M559.80 794.25L569.55 774.75L550.05 774.75Z" fill="#bcbd22" fill-opacity="0.8" stroke="#fff" stroke-opacity="0.8" stroke-width="1.3" stroke-linejoin="miter"/>
<path d="M584.00 798.85L593.75 779.35L574.25 779.35Z" fill="#bcbd22" fill-opacity="0.8" stroke="#fff" stroke-opacity="0.8" stroke-width="1.3" stroke-linejoin="miter"/>
<path d="M617.20 780.35L626.95 760.85L607.45 760.85Z" fill="#bcbd22" fill-opacity="0.8" stroke="#fff" stroke-opacity="0.8" stroke-width="1.3" stroke-linejoin="miter"/>
<path d="M512.80 817.65L522.55 798.15L503.05 798.15Z" fill="#bcbd22" fill-opacity="0.8" stroke="#fff" stroke-opacity="0.8" stroke-width="1.3" stroke-linejoin="miter"/>
<path d="M558.50 817.65L568.25 798.15L548.75 798.15Z" fill="#bcbd22" fill-opacity="0.8" stroke="#fff" stroke-opacity="0.8" stroke-width="1.3" stroke-linejoin="miter"/>
<path d="M571.50 817.65L581.25 798.15L561.75 798.15Z" fill="#bcbd22" fill-opacity="0.8" stroke="#fff" stroke-opacity="0.8" stroke-width="1.3" stroke-linejoin="miter"/>
<path d="M597.60 817.65L607.35 798.15L587.85 798.15Z" fill="#bcbd22" fill-opacity="0.8" stroke="#fff" stroke-opacity="0.8" stroke-width="1.3" stroke-linejoin="miter"/>
<path d="M609.40 817.65L619.15 798.15L599.65 798.15Z" fill="#bcbd22" fill-opacity="0.8" stroke="#fff" stroke-opacity="0.8" stroke-width="1.3" stroke-linejoin="miter"/>
<path d="M629.00 817.65L638.75 798.15L619.25 798.15Z" fill="#bcbd22" fill-opacity="0.8" stroke="#fff" stroke-opacity="0.8" stroke-width="1.3" stroke-linejoin="miter"/>
<line x1="433.3" y1="766.9" x2="636" y2="761.7" stroke="#808080" stroke-width="3.1" stroke-dasharray="11.5 4.5"/>
<path d="M423.2 547.5 L423.2 827.1 L645.7 827.1" fill="none" stroke="#262626" stroke-width="3.4" stroke-linecap="square" stroke-linejoin="miter"/>
<line x1="423.2" y1="808.50" x2="408.40" y2="808.50" stroke="#262626" stroke-width="3.4"/>
<line x1="423.2" y1="715.30" x2="408.40" y2="715.30" stroke="#262626" stroke-width="3.4"/>
<line x1="423.2" y1="622.10" x2="408.40" y2="622.10" stroke="#262626" stroke-width="3.4"/>
<text x="434.44" y="569.00" font-size="25.62" font-style="italic" textLength="9.84" lengthAdjust="spacingAndGlyphs" fill="#262626">r</text>
<text x="450.20" y="569.00" font-size="25.62" textLength="18.26" lengthAdjust="spacingAndGlyphs" fill="#262626">=</text>
<text x="474.32" y="569.00" font-size="25.62" textLength="52.62" lengthAdjust="spacingAndGlyphs" fill="#262626">0.02</text>
<text x="435.02" y="596.00" font-size="25.62" font-style="italic" textLength="14.63" lengthAdjust="spacingAndGlyphs" fill="#262626">p</text>
<text x="454.80" y="596.00" font-size="25.62" textLength="18.26" lengthAdjust="spacingAndGlyphs" fill="#262626">=</text>
<text x="479.32" y="596.00" font-size="25.62" textLength="38.02" lengthAdjust="spacingAndGlyphs" fill="#262626">8.6</text>
<text x="517.43" y="596.00" font-size="25.62" font-style="italic" textLength="14.54" lengthAdjust="spacingAndGlyphs" fill="#262626">e</text>
<text x="538.40" y="596.00" font-size="25.62" textLength="18.26" lengthAdjust="spacingAndGlyphs" fill="#262626">−</text>
<text x="562.54" y="596.00" font-size="25.62" textLength="29.45" lengthAdjust="spacingAndGlyphs" fill="#262626">01</text>
<text x="620.13" y="576.20" font-size="31.50" font-weight="bold" textLength="20.25" lengthAdjust="spacingAndGlyphs" fill="#262626">e</text>
<path d="M762.00 426.35C764.59 426.35 767.07 425.32 768.89 423.49C770.72 421.67 771.75 419.19 771.75 416.60C771.75 414.01 770.72 411.53 768.89 409.71C767.07 407.88 764.59 406.85 762.00 406.85C759.41 406.85 756.93 407.88 755.11 409.71C753.28 411.53 752.25 414.01 752.25 416.60C752.25 419.19 753.28 421.67 755.11 423.49C756.93 425.32 759.41 426.35 762.00 426.35Z" fill="#1f77b4" fill-opacity="0.8" stroke="#fff" stroke-opacity="0.8" stroke-width="1.3" stroke-linejoin="miter"/>
<path d="M807.00 426.35C809.59 426.35 812.07 425.32 813.89 423.49C815.72 421.67 816.75 419.19 816.75 416.60C816.75 414.01 815.72 411.53 813.89 409.71C812.07 407.88 809.59 406.85 807.00 406.85C804.41 406.85 801.93 407.88 800.11 409.71C798.28 411.53 797.25 414.01 797.25 416.60C797.25 419.19 798.28 421.67 800.11 423.49C801.93 425.32 804.41 426.35 807.00 426.35Z" fill="#1f77b4" fill-opacity="0.8" stroke="#fff" stroke-opacity="0.8" stroke-width="1.3" stroke-linejoin="miter"/>
<path d="M826.00 426.35C828.59 426.35 831.07 425.32 832.89 423.49C834.72 421.67 835.75 419.19 835.75 416.60C835.75 414.01 834.72 411.53 832.89 409.71C831.07 407.88 828.59 406.85 826.00 406.85C823.41 406.85 820.93 407.88 819.11 409.71C817.28 411.53 816.25 414.01 816.25 416.60C816.25 419.19 817.28 421.67 819.11 423.49C820.93 425.32 823.41 426.35 826.00 426.35Z" fill="#1f77b4" fill-opacity="0.8" stroke="#fff" stroke-opacity="0.8" stroke-width="1.3" stroke-linejoin="miter"/>
<path d="M794.83 301.55L799.70 296.68L804.58 301.55L809.45 296.68L804.58 291.80L809.45 286.93L804.58 282.05L799.70 286.93L794.83 282.05L789.95 286.93L794.83 291.80L789.95 296.68Z" fill="#ff7f0e" fill-opacity="0.8" stroke="#fff" stroke-opacity="0.8" stroke-width="1.3" stroke-linejoin="miter"/>
<path d="M832.73 301.55L837.60 296.68L842.48 301.55L847.35 296.68L842.48 291.80L847.35 286.93L842.48 282.05L837.60 286.93L832.73 282.05L827.85 286.93L832.73 291.80L827.85 296.68Z" fill="#ff7f0e" fill-opacity="0.8" stroke="#fff" stroke-opacity="0.8" stroke-width="1.3" stroke-linejoin="miter"/>
<path d="M740.12 332.85L745.00 327.98L749.88 332.85L754.75 327.98L749.88 323.10L754.75 318.23L749.88 313.35L745.00 318.23L740.12 313.35L735.25 318.23L740.12 323.10L735.25 327.98Z" fill="#ff7f0e" fill-opacity="0.8" stroke="#fff" stroke-opacity="0.8" stroke-width="1.3" stroke-linejoin="miter"/>
<path d="M764.83 332.85L769.70 327.98L774.58 332.85L779.45 327.98L774.58 323.10L779.45 318.23L774.58 313.35L769.70 318.23L764.83 313.35L759.95 318.23L764.83 323.10L759.95 327.98Z" fill="#ff7f0e" fill-opacity="0.8" stroke="#fff" stroke-opacity="0.8" stroke-width="1.3" stroke-linejoin="miter"/>
<path d="M806.12 332.85L811.00 327.98L815.88 332.85L820.75 327.98L815.88 323.10L820.75 318.23L815.88 313.35L811.00 318.23L806.12 313.35L801.25 318.23L806.12 323.10L801.25 327.98Z" fill="#ff7f0e" fill-opacity="0.8" stroke="#fff" stroke-opacity="0.8" stroke-width="1.3" stroke-linejoin="miter"/>
<path d="M808.12 332.85L813.00 327.98L817.88 332.85L822.75 327.98L817.88 323.10L822.75 318.23L817.88 313.35L813.00 318.23L808.12 313.35L803.25 318.23L808.12 323.10L803.25 327.98Z" fill="#ff7f0e" fill-opacity="0.8" stroke="#fff" stroke-opacity="0.8" stroke-width="1.3" stroke-linejoin="miter"/>
<path d="M822.83 345.95L827.70 341.07L832.58 345.95L837.45 341.07L832.58 336.20L837.45 331.32L832.58 326.45L827.70 331.32L822.83 326.45L817.95 331.32L822.83 336.20L817.95 341.07Z" fill="#ff7f0e" fill-opacity="0.8" stroke="#fff" stroke-opacity="0.8" stroke-width="1.3" stroke-linejoin="miter"/>
<path d="M800.12 364.15L805.00 359.27L809.88 364.15L814.75 359.27L809.88 354.40L814.75 349.52L809.88 344.65L805.00 349.52L800.12 344.65L795.25 349.52L800.12 354.40L795.25 359.27Z" fill="#ff7f0e" fill-opacity="0.8" stroke="#fff" stroke-opacity="0.8" stroke-width="1.3" stroke-linejoin="miter"/>
<path d="M780.12 426.35L785.00 421.48L789.88 426.35L794.75 421.48L789.88 416.60L794.75 411.73L789.88 406.85L785.00 411.73L780.12 406.85L775.25 411.73L780.12 416.60L775.25 421.48Z" fill="#ff7f0e" fill-opacity="0.8" stroke="#fff" stroke-opacity="0.8" stroke-width="1.3" stroke-linejoin="miter"/>
<path d="M902.91 223.11L902.91 236.89L916.69 236.89L916.69 223.11Z" fill="#2ca02c" fill-opacity="0.8" stroke="#fff" stroke-opacity="0.8" stroke-width="1.3" stroke-linejoin="miter"/>
<path d="M816.81 273.51L816.81 287.29L830.59 287.29L830.59 273.51Z" fill="#2ca02c" fill-opacity="0.8" stroke="#fff" stroke-opacity="0.8" stroke-width="1.3" stroke-linejoin="miter"/>
<path d="M894.61 401.81L894.61 415.59L908.39 415.59L908.39 401.81Z" fill="#2ca02c" fill-opacity="0.8" stroke="#fff" stroke-opacity="0.8" stroke-width="1.3" stroke-linejoin="miter"/>
<path d="M738.25 426.35L744.75 426.35L744.75 419.85L751.25 419.85L751.25 413.35L744.75 413.35L744.75 406.85L738.25 406.85L738.25 413.35L731.75 413.35L731.75 419.85L738.25 419.85Z" fill="#d62728" fill-opacity="0.8" stroke="#fff" stroke-opacity="0.8" stroke-width="1.3" stroke-linejoin="miter"/>
<path d="M792.05 426.35L798.55 426.35L798.55 419.85L805.05 419.85L805.05 413.35L798.55 413.35L798.55 406.85L792.05 406.85L792.05 413.35L785.55 413.35L785.55 419.85L792.05 419.85Z" fill="#d62728" fill-opacity="0.8" stroke="#fff" stroke-opacity="0.8" stroke-width="1.3" stroke-linejoin="miter"/>
<path d="M798.75 426.35L805.25 426.35L805.25 419.85L811.75 419.85L811.75 413.35L805.25 413.35L805.25 406.85L798.75 406.85L798.75 413.35L792.25 413.35L792.25 419.85L798.75 419.85Z" fill="#d62728" fill-opacity="0.8" stroke="#fff" stroke-opacity="0.8" stroke-width="1.3" stroke-linejoin="miter"/>
<path d="M818.75 426.35L825.25 426.35L825.25 419.85L831.75 419.85L831.75 413.35L825.25 413.35L825.25 406.85L818.75 406.85L818.75 413.35L812.25 413.35L812.25 419.85L818.75 419.85Z" fill="#d62728" fill-opacity="0.8" stroke="#fff" stroke-opacity="0.8" stroke-width="1.3" stroke-linejoin="miter"/>
<path d="M844.85 426.35L851.35 426.35L851.35 419.85L857.85 419.85L857.85 413.35L851.35 413.35L851.35 406.85L844.85 406.85L844.85 413.35L838.35 413.35L838.35 419.85L844.85 419.85Z" fill="#d62728" fill-opacity="0.8" stroke="#fff" stroke-opacity="0.8" stroke-width="1.3" stroke-linejoin="miter"/>
<path d="M913.95 426.35L920.45 426.35L920.45 419.85L926.95 419.85L926.95 413.35L920.45 413.35L920.45 406.85L913.95 406.85L913.95 413.35L907.45 413.35L907.45 419.85L913.95 419.85Z" fill="#d62728" fill-opacity="0.8" stroke="#fff" stroke-opacity="0.8" stroke-width="1.3" stroke-linejoin="miter"/>
<path d="M865.00 406.85L855.25 416.60L865.00 426.35L874.75 416.60Z" fill="#9467bd" fill-opacity="0.8" stroke="#fff" stroke-opacity="0.8" stroke-width="1.3" stroke-linejoin="miter"/>
<path d="M810.50 406.85L800.75 416.60L810.50 426.35L820.25 416.60Z" fill="#9467bd" fill-opacity="0.8" stroke="#fff" stroke-opacity="0.8" stroke-width="1.3" stroke-linejoin="miter"/>
<path d="M812.00 406.85L802.25 416.60L812.00 426.35L821.75 416.60Z" fill="#9467bd" fill-opacity="0.8" stroke="#fff" stroke-opacity="0.8" stroke-width="1.3" stroke-linejoin="miter"/>
<path d="M823.40 231.25L819.95 237.55L813.65 241.00L819.95 244.45L823.40 250.75L826.85 244.45L833.15 241.00L826.85 237.55Z" fill="#8c564b" fill-opacity="0.8" stroke="#fff" stroke-opacity="0.8" stroke-width="1.3" stroke-linejoin="miter"/>
<path d="M839.70 231.65L836.25 237.95L829.95 241.40L836.25 244.85L839.70 251.15L843.15 244.85L849.45 241.40L843.15 237.95Z" fill="#8c564b" fill-opacity="0.8" stroke="#fff" stroke-opacity="0.8" stroke-width="1.3" stroke-linejoin="miter"/>
<path d="M851.90 227.25L848.45 233.55L842.15 237.00L848.45 240.45L851.90 246.75L855.35 240.45L861.65 237.00L855.35 233.55Z" fill="#8c564b" fill-opacity="0.8" stroke="#fff" stroke-opacity="0.8" stroke-width="1.3" stroke-linejoin="miter"/>
<path d="M851.60 227.45L848.15 233.75L841.85 237.20L848.15 240.65L851.60 246.95L855.05 240.65L861.35 237.20L855.05 233.75Z" fill="#8c564b" fill-opacity="0.8" stroke="#fff" stroke-opacity="0.8" stroke-width="1.3" stroke-linejoin="miter"/>
<path d="M789.80 299.85L786.35 306.15L780.05 309.60L786.35 313.05L789.80 319.35L793.25 313.05L799.55 309.60L793.25 306.15Z" fill="#8c564b" fill-opacity="0.8" stroke="#fff" stroke-opacity="0.8" stroke-width="1.3" stroke-linejoin="miter"/>
<path d="M801.00 313.35L797.55 319.65L791.25 323.10L797.55 326.55L801.00 332.85L804.45 326.55L810.75 323.10L804.45 319.65Z" fill="#8c564b" fill-opacity="0.8" stroke="#fff" stroke-opacity="0.8" stroke-width="1.3" stroke-linejoin="miter"/>
<path d="M781.80 406.85L778.35 413.15L772.05 416.60L778.35 420.05L781.80 426.35L785.25 420.05L791.55 416.60L785.25 413.15Z" fill="#8c564b" fill-opacity="0.8" stroke="#fff" stroke-opacity="0.8" stroke-width="1.3" stroke-linejoin="miter"/>
<path d="M816.30 406.85L812.85 413.15L806.55 416.60L812.85 420.05L816.30 426.35L819.75 420.05L826.05 416.60L819.75 413.15Z" fill="#8c564b" fill-opacity="0.8" stroke="#fff" stroke-opacity="0.8" stroke-width="1.3" stroke-linejoin="miter"/>
<path d="M830.70 406.85L827.25 413.15L820.95 416.60L827.25 420.05L830.70 426.35L834.15 420.05L840.45 416.60L834.15 413.15Z" fill="#8c564b" fill-opacity="0.8" stroke="#fff" stroke-opacity="0.8" stroke-width="1.3" stroke-linejoin="miter"/>
<path d="M874.10 291.45L864.35 310.95L883.85 310.95Z" fill="#e377c2" fill-opacity="0.8" stroke="#fff" stroke-opacity="0.8" stroke-width="1.3" stroke-linejoin="miter"/>
<path d="M946.60 389.05L936.85 408.55L956.35 408.55Z" fill="#e377c2" fill-opacity="0.8" stroke="#fff" stroke-opacity="0.8" stroke-width="1.3" stroke-linejoin="miter"/>
<path d="M857.00 406.85L847.25 426.35L866.75 426.35Z" fill="#e377c2" fill-opacity="0.8" stroke="#fff" stroke-opacity="0.8" stroke-width="1.3" stroke-linejoin="miter"/>
<path d="M893.70 406.85L883.95 426.35L903.45 426.35Z" fill="#e377c2" fill-opacity="0.8" stroke="#fff" stroke-opacity="0.8" stroke-width="1.3" stroke-linejoin="miter"/>
<path d="M760.00 406.85L750.25 426.35L769.75 426.35Z" fill="#e377c2" fill-opacity="0.8" stroke="#fff" stroke-opacity="0.8" stroke-width="1.3" stroke-linejoin="miter"/>
<path d="M886.41 223.01L888.42 229.90L886.41 236.79L893.30 234.78L900.19 236.79L898.17 229.90L900.19 223.01L893.30 225.03Z" fill="#7f7f7f" fill-opacity="0.8" stroke="#fff" stroke-opacity="0.8" stroke-width="1.3" stroke-linejoin="miter"/>
<path d="M886.91 223.01L888.92 229.90L886.91 236.79L893.80 234.78L900.69 236.79L898.67 229.90L900.69 223.01L893.80 225.03Z" fill="#7f7f7f" fill-opacity="0.8" stroke="#fff" stroke-opacity="0.8" stroke-width="1.3" stroke-linejoin="miter"/>
<path d="M753.60 388.45L763.35 368.95L743.85 368.95Z" fill="#bcbd22" fill-opacity="0.8" stroke="#fff" stroke-opacity="0.8" stroke-width="1.3" stroke-linejoin="miter"/>
<path d="M748.40 402.35L758.15 382.85L738.65 382.85Z" fill="#bcbd22" fill-opacity="0.8" stroke="#fff" stroke-opacity="0.8" stroke-width="1.3" stroke-linejoin="miter"/>
<path d="M765.80 406.95L775.55 387.45L756.05 387.45Z" fill="#bcbd22" fill-opacity="0.8" stroke="#fff" stroke-opacity="0.8" stroke-width="1.3" stroke-linejoin="miter"/>
<path d="M752.80 424.95L762.55 405.45L743.05 405.45Z" fill="#bcbd22" fill-opacity="0.8" stroke="#fff" stroke-opacity="0.8" stroke-width="1.3" stroke-linejoin="miter"/>
<path d="M768.40 424.95L778.15 405.45L758.65 405.45Z" fill="#bcbd22" fill-opacity="0.8" stroke="#fff" stroke-opacity="0.8" stroke-width="1.3" stroke-linejoin="miter"/>
<path d="M760.00 424.95L769.75 405.45L750.25 405.45Z" fill="#bcbd22" fill-opacity="0.8" stroke="#fff" stroke-opacity="0.8" stroke-width="1.3" stroke-linejoin="miter"/>
<line x1="744.2" y1="402.2" x2="947.1" y2="313" stroke="#1a1a1a" stroke-width="5.2" stroke-linecap="round"/>
<path d="M734.8 155.6 L734.8 435.20000000000005 L957.3 435.20000000000005" fill="none" stroke="#262626" stroke-width="3.4" stroke-linecap="square" stroke-linejoin="miter"/>
<line x1="734.8" y1="416.60" x2="720.00" y2="416.60" stroke="#262626" stroke-width="3.4"/>
<line x1="734.8" y1="323.40" x2="720.00" y2="323.40" stroke="#262626" stroke-width="3.4"/>
<line x1="734.8" y1="230.20" x2="720.00" y2="230.20" stroke="#262626" stroke-width="3.4"/>
<text x="746.04" y="176.50" font-size="25.62" font-style="italic" textLength="9.84" lengthAdjust="spacingAndGlyphs" fill="#262626">r</text>
<text x="761.80" y="176.50" font-size="25.62" textLength="18.26" lengthAdjust="spacingAndGlyphs" fill="#262626">=</text>
<text x="785.90" y="176.50" font-size="25.62" textLength="53.40" lengthAdjust="spacingAndGlyphs" fill="#262626">0.36</text>
<text x="746.62" y="203.50" font-size="25.62" font-style="italic" textLength="14.63" lengthAdjust="spacingAndGlyphs" fill="#262626">p</text>
<text x="766.40" y="203.50" font-size="25.62" textLength="18.26" lengthAdjust="spacingAndGlyphs" fill="#262626">=</text>
<text x="791.33" y="203.50" font-size="25.62" textLength="37.33" lengthAdjust="spacingAndGlyphs" fill="#262626">5.4</text>
<text x="829.03" y="203.50" font-size="25.62" font-style="italic" textLength="14.54" lengthAdjust="spacingAndGlyphs" fill="#262626">e</text>
<text x="850.00" y="203.50" font-size="25.62" textLength="18.26" lengthAdjust="spacingAndGlyphs" fill="#262626">−</text>
<text x="874.13" y="203.50" font-size="25.62" textLength="29.72" lengthAdjust="spacingAndGlyphs" fill="#262626">03</text>
<text x="935.12" y="184.00" font-size="31.50" font-weight="bold" textLength="16.52" lengthAdjust="spacingAndGlyphs" fill="#262626">c</text>
<path d="M847.50 818.25C850.09 818.25 852.57 817.22 854.39 815.39C856.22 813.57 857.25 811.09 857.25 808.50C857.25 805.91 856.22 803.43 854.39 801.61C852.57 799.78 850.09 798.75 847.50 798.75C844.91 798.75 842.43 799.78 840.61 801.61C838.78 803.43 837.75 805.91 837.75 808.50C837.75 811.09 838.78 813.57 840.61 815.39C842.43 817.22 844.91 818.25 847.50 818.25Z" fill="#1f77b4" fill-opacity="0.8" stroke="#fff" stroke-opacity="0.8" stroke-width="1.3" stroke-linejoin="miter"/>
<path d="M849.50 818.25C852.09 818.25 854.57 817.22 856.39 815.39C858.22 813.57 859.25 811.09 859.25 808.50C859.25 805.91 858.22 803.43 856.39 801.61C854.57 799.78 852.09 798.75 849.50 798.75C846.91 798.75 844.43 799.78 842.61 801.61C840.78 803.43 839.75 805.91 839.75 808.50C839.75 811.09 840.78 813.57 842.61 815.39C844.43 817.22 846.91 818.25 849.50 818.25Z" fill="#1f77b4" fill-opacity="0.8" stroke="#fff" stroke-opacity="0.8" stroke-width="1.3" stroke-linejoin="miter"/>
<path d="M851.50 818.25C854.09 818.25 856.57 817.22 858.39 815.39C860.22 813.57 861.25 811.09 861.25 808.50C861.25 805.91 860.22 803.43 858.39 801.61C856.57 799.78 854.09 798.75 851.50 798.75C848.91 798.75 846.43 799.78 844.61 801.61C842.78 803.43 841.75 805.91 841.75 808.50C841.75 811.09 842.78 813.57 844.61 815.39C846.43 817.22 848.91 818.25 851.50 818.25Z" fill="#1f77b4" fill-opacity="0.8" stroke="#fff" stroke-opacity="0.8" stroke-width="1.3" stroke-linejoin="miter"/>
<path d="M883.90 818.25C886.49 818.25 888.97 817.22 890.79 815.39C892.62 813.57 893.65 811.09 893.65 808.50C893.65 805.91 892.62 803.43 890.79 801.61C888.97 799.78 886.49 798.75 883.90 798.75C881.31 798.75 878.83 799.78 877.01 801.61C875.18 803.43 874.15 805.91 874.15 808.50C874.15 811.09 875.18 813.57 877.01 815.39C878.83 817.22 881.31 818.25 883.90 818.25Z" fill="#1f77b4" fill-opacity="0.8" stroke="#fff" stroke-opacity="0.8" stroke-width="1.3" stroke-linejoin="miter"/>
<path d="M753.33 694.15L758.20 689.27L763.08 694.15L767.95 689.27L763.08 684.40L767.95 679.52L763.08 674.65L758.20 679.52L753.33 674.65L748.45 679.52L753.33 684.40L748.45 689.27Z" fill="#ff7f0e" fill-opacity="0.8" stroke="#fff" stroke-opacity="0.8" stroke-width="1.3" stroke-linejoin="miter"/>
<path d="M784.33 693.75L789.20 688.88L794.08 693.75L798.95 688.88L794.08 684.00L798.95 679.12L794.08 674.25L789.20 679.12L784.33 674.25L779.45 679.12L784.33 684.00L779.45 688.88Z" fill="#ff7f0e" fill-opacity="0.8" stroke="#fff" stroke-opacity="0.8" stroke-width="1.3" stroke-linejoin="miter"/>
<path d="M755.12 724.65L760.00 719.77L764.88 724.65L769.75 719.77L764.88 714.90L769.75 710.02L764.88 705.15L760.00 710.02L755.12 705.15L750.25 710.02L755.12 714.90L750.25 719.77Z" fill="#ff7f0e" fill-opacity="0.8" stroke="#fff" stroke-opacity="0.8" stroke-width="1.3" stroke-linejoin="miter"/>
<path d="M771.12 724.65L776.00 719.77L780.88 724.65L785.75 719.77L780.88 714.90L785.75 710.02L780.88 705.15L776.00 710.02L771.12 705.15L766.25 710.02L771.12 714.90L766.25 719.77Z" fill="#ff7f0e" fill-opacity="0.8" stroke="#fff" stroke-opacity="0.8" stroke-width="1.3" stroke-linejoin="miter"/>
<path d="M781.12 724.65L786.00 719.77L790.88 724.65L795.75 719.77L790.88 714.90L795.75 710.02L790.88 705.15L786.00 710.02L781.12 705.15L776.25 710.02L781.12 714.90L776.25 719.77Z" fill="#ff7f0e" fill-opacity="0.8" stroke="#fff" stroke-opacity="0.8" stroke-width="1.3" stroke-linejoin="miter"/>
<path d="M786.12 724.65L791.00 719.77L795.88 724.65L800.75 719.77L795.88 714.90L800.75 710.02L795.88 705.15L791.00 710.02L786.12 705.15L781.25 710.02L786.12 714.90L781.25 719.77Z" fill="#ff7f0e" fill-opacity="0.8" stroke="#fff" stroke-opacity="0.8" stroke-width="1.3" stroke-linejoin="miter"/>
<path d="M799.52 738.05L804.40 733.17L809.27 738.05L814.15 733.17L809.27 728.30L814.15 723.42L809.27 718.55L804.40 723.42L799.52 718.55L794.65 723.42L799.52 728.30L794.65 733.17Z" fill="#ff7f0e" fill-opacity="0.8" stroke="#fff" stroke-opacity="0.8" stroke-width="1.3" stroke-linejoin="miter"/>
<path d="M770.02 756.25L774.90 751.38L779.77 756.25L784.65 751.38L779.77 746.50L784.65 741.62L779.77 736.75L774.90 741.62L770.02 736.75L765.15 741.62L770.02 746.50L765.15 751.38Z" fill="#ff7f0e" fill-opacity="0.8" stroke="#fff" stroke-opacity="0.8" stroke-width="1.3" stroke-linejoin="miter"/>
<path d="M920.11 613.61L920.11 627.39L933.89 627.39L933.89 613.61Z" fill="#2ca02c" fill-opacity="0.8" stroke="#fff" stroke-opacity="0.8" stroke-width="1.3" stroke-linejoin="miter"/>
<path d="M863.51 665.31L863.51 679.09L877.29 679.09L877.29 665.31Z" fill="#2ca02c" fill-opacity="0.8" stroke="#fff" stroke-opacity="0.8" stroke-width="1.3" stroke-linejoin="miter"/>
<path d="M880.11 793.71L880.11 807.49L893.89 807.49L893.89 793.71Z" fill="#2ca02c" fill-opacity="0.8" stroke="#fff" stroke-opacity="0.8" stroke-width="1.3" stroke-linejoin="miter"/>
<path d="M740.35 818.25L746.85 818.25L746.85 811.75L753.35 811.75L753.35 805.25L746.85 805.25L746.85 798.75L740.35 798.75L740.35 805.25L733.85 805.25L733.85 811.75L740.35 811.75Z" fill="#d62728" fill-opacity="0.8" stroke="#fff" stroke-opacity="0.8" stroke-width="1.3" stroke-linejoin="miter"/>
<path d="M811.75 818.25L818.25 818.25L818.25 811.75L824.75 811.75L824.75 805.25L818.25 805.25L818.25 798.75L811.75 798.75L811.75 805.25L805.25 805.25L805.25 811.75L811.75 811.75Z" fill="#d62728" fill-opacity="0.8" stroke="#fff" stroke-opacity="0.8" stroke-width="1.3" stroke-linejoin="miter"/>
<path d="M796.75 818.25L803.25 818.25L803.25 811.75L809.75 811.75L809.75 805.25L803.25 805.25L803.25 798.75L796.75 798.75L796.75 805.25L790.25 805.25L790.25 811.75L796.75 811.75Z" fill="#d62728" fill-opacity="0.8" stroke="#fff" stroke-opacity="0.8" stroke-width="1.3" stroke-linejoin="miter"/>
<path d="M781.75 818.25L788.25 818.25L788.25 811.75L794.75 811.75L794.75 805.25L788.25 805.25L788.25 798.75L781.75 798.75L781.75 805.25L775.25 805.25L775.25 811.75L781.75 811.75Z" fill="#d62728" fill-opacity="0.8" stroke="#fff" stroke-opacity="0.8" stroke-width="1.3" stroke-linejoin="miter"/>
<path d="M839.60 798.75L829.85 808.50L839.60 818.25L849.35 808.50Z" fill="#9467bd" fill-opacity="0.8" stroke="#fff" stroke-opacity="0.8" stroke-width="1.3" stroke-linejoin="miter"/>
<path d="M917.50 624.75L914.05 631.05L907.75 634.50L914.05 637.95L917.50 644.25L920.95 637.95L927.25 634.50L920.95 631.05Z" fill="#8c564b" fill-opacity="0.8" stroke="#fff" stroke-opacity="0.8" stroke-width="1.3" stroke-linejoin="miter"/>
<path d="M925.00 620.25L921.55 626.55L915.25 630.00L921.55 633.45L925.00 639.75L928.45 633.45L934.75 630.00L928.45 626.55Z" fill="#8c564b" fill-opacity="0.8" stroke="#fff" stroke-opacity="0.8" stroke-width="1.3" stroke-linejoin="miter"/>
<path d="M942.00 626.25L938.55 632.55L932.25 636.00L938.55 639.45L942.00 645.75L945.45 639.45L951.75 636.00L945.45 632.55Z" fill="#8c564b" fill-opacity="0.8" stroke="#fff" stroke-opacity="0.8" stroke-width="1.3" stroke-linejoin="miter"/>
<path d="M947.00 619.25L943.55 625.55L937.25 629.00L943.55 632.45L947.00 638.75L950.45 632.45L956.75 629.00L950.45 625.55Z" fill="#8c564b" fill-opacity="0.8" stroke="#fff" stroke-opacity="0.8" stroke-width="1.3" stroke-linejoin="miter"/>
<path d="M890.40 692.45L886.95 698.75L880.65 702.20L886.95 705.65L890.40 711.95L893.85 705.65L900.15 702.20L893.85 698.75Z" fill="#8c564b" fill-opacity="0.8" stroke="#fff" stroke-opacity="0.8" stroke-width="1.3" stroke-linejoin="miter"/>
<path d="M911.30 704.95L907.85 711.25L901.55 714.70L907.85 718.15L911.30 724.45L914.75 718.15L921.05 714.70L914.75 711.25Z" fill="#8c564b" fill-opacity="0.8" stroke="#fff" stroke-opacity="0.8" stroke-width="1.3" stroke-linejoin="miter"/>
<path d="M917.80 798.75L914.35 805.05L908.05 808.50L914.35 811.95L917.80 818.25L921.25 811.95L927.55 808.50L921.25 805.05Z" fill="#8c564b" fill-opacity="0.8" stroke="#fff" stroke-opacity="0.8" stroke-width="1.3" stroke-linejoin="miter"/>
<path d="M929.60 798.75L926.15 805.05L919.85 808.50L926.15 811.95L929.60 818.25L933.05 811.95L939.35 808.50L933.05 805.05Z" fill="#8c564b" fill-opacity="0.8" stroke="#fff" stroke-opacity="0.8" stroke-width="1.3" stroke-linejoin="miter"/>
<path d="M820.00 798.75L816.55 805.05L810.25 808.50L816.55 811.95L820.00 818.25L823.45 811.95L829.75 808.50L823.45 805.05Z" fill="#8c564b" fill-opacity="0.8" stroke="#fff" stroke-opacity="0.8" stroke-width="1.3" stroke-linejoin="miter"/>
<path d="M800.40 683.25L790.65 702.75L810.15 702.75Z" fill="#e377c2" fill-opacity="0.8" stroke="#fff" stroke-opacity="0.8" stroke-width="1.3" stroke-linejoin="miter"/>
<path d="M827.00 782.45L817.25 801.95L836.75 801.95Z" fill="#e377c2" fill-opacity="0.8" stroke="#fff" stroke-opacity="0.8" stroke-width="1.3" stroke-linejoin="miter"/>
<path d="M780.00 798.75L770.25 818.25L789.75 818.25Z" fill="#e377c2" fill-opacity="0.8" stroke="#fff" stroke-opacity="0.8" stroke-width="1.3" stroke-linejoin="miter"/>
<path d="M792.00 798.75L782.25 818.25L801.75 818.25Z" fill="#e377c2" fill-opacity="0.8" stroke="#fff" stroke-opacity="0.8" stroke-width="1.3" stroke-linejoin="miter"/>
<path d="M808.00 798.75L798.25 818.25L817.75 818.25Z" fill="#e377c2" fill-opacity="0.8" stroke="#fff" stroke-opacity="0.8" stroke-width="1.3" stroke-linejoin="miter"/>
<path d="M880.91 614.91L882.92 621.80L880.91 628.69L887.80 626.67L894.69 628.69L892.67 621.80L894.69 614.91L887.80 616.92Z" fill="#7f7f7f" fill-opacity="0.8" stroke="#fff" stroke-opacity="0.8" stroke-width="1.3" stroke-linejoin="miter"/>
<path d="M907.11 614.91L909.12 621.80L907.11 628.69L914.00 626.67L920.89 628.69L918.88 621.80L920.89 614.91L914.00 616.92Z" fill="#7f7f7f" fill-opacity="0.8" stroke="#fff" stroke-opacity="0.8" stroke-width="1.3" stroke-linejoin="miter"/>
<path d="M779.60 780.35L789.35 760.85L769.85 760.85Z" fill="#bcbd22" fill-opacity="0.8" stroke="#fff" stroke-opacity="0.8" stroke-width="1.3" stroke-linejoin="miter"/>
<path d="M813.00 794.25L822.75 774.75L803.25 774.75Z" fill="#bcbd22" fill-opacity="0.8" stroke="#fff" stroke-opacity="0.8" stroke-width="1.3" stroke-linejoin="miter"/>
<path d="M821.30 798.85L831.05 779.35L811.55 779.35Z" fill="#bcbd22" fill-opacity="0.8" stroke="#fff" stroke-opacity="0.8" stroke-width="1.3" stroke-linejoin="miter"/>
<path d="M769.10 817.65L778.85 798.15L759.35 798.15Z" fill="#bcbd22" fill-opacity="0.8" stroke="#fff" stroke-opacity="0.8" stroke-width="1.3" stroke-linejoin="miter"/>
<path d="M781.00 817.65L790.75 798.15L771.25 798.15Z" fill="#bcbd22" fill-opacity="0.8" stroke="#fff" stroke-opacity="0.8" stroke-width="1.3" stroke-linejoin="miter"/>
<path d="M795.20 817.65L804.95 798.15L785.45 798.15Z" fill="#bcbd22" fill-opacity="0.8" stroke="#fff" stroke-opacity="0.8" stroke-width="1.3" stroke-linejoin="miter"/>
<path d="M808.00 817.65L817.75 798.15L798.25 798.15Z" fill="#bcbd22" fill-opacity="0.8" stroke="#fff" stroke-opacity="0.8" stroke-width="1.3" stroke-linejoin="miter"/>
<path d="M826.50 817.65L836.25 798.15L816.75 798.15Z" fill="#bcbd22" fill-opacity="0.8" stroke="#fff" stroke-opacity="0.8" stroke-width="1.3" stroke-linejoin="miter"/>
<line x1="744.3" y1="813" x2="947" y2="696.4" stroke="#1a1a1a" stroke-width="5.2" stroke-linecap="round"/>
<path d="M734.8 547.5 L734.8 827.1 L957.3 827.1" fill="none" stroke="#262626" stroke-width="3.4" stroke-linecap="square" stroke-linejoin="miter"/>
<line x1="734.8" y1="808.50" x2="720.00" y2="808.50" stroke="#262626" stroke-width="3.4"/>
<line x1="734.8" y1="715.30" x2="720.00" y2="715.30" stroke="#262626" stroke-width="3.4"/>
<line x1="734.8" y1="622.10" x2="720.00" y2="622.10" stroke="#262626" stroke-width="3.4"/>
<text x="746.04" y="569.00" font-size="25.62" font-style="italic" textLength="9.84" lengthAdjust="spacingAndGlyphs" fill="#262626">r</text>
<text x="761.80" y="569.00" font-size="25.62" textLength="18.26" lengthAdjust="spacingAndGlyphs" fill="#262626">=</text>
<text x="785.91" y="569.00" font-size="25.62" textLength="53.02" lengthAdjust="spacingAndGlyphs" fill="#262626">0.47</text>
<text x="746.62" y="596.00" font-size="25.62" font-style="italic" textLength="14.63" lengthAdjust="spacingAndGlyphs" fill="#262626">p</text>
<text x="766.40" y="596.00" font-size="25.62" textLength="18.26" lengthAdjust="spacingAndGlyphs" fill="#262626">=</text>
<text x="791.01" y="596.00" font-size="25.62" textLength="37.65" lengthAdjust="spacingAndGlyphs" fill="#262626">1.4</text>
<text x="829.03" y="596.00" font-size="25.62" font-style="italic" textLength="14.54" lengthAdjust="spacingAndGlyphs" fill="#262626">e</text>
<text x="850.00" y="596.00" font-size="25.62" textLength="18.26" lengthAdjust="spacingAndGlyphs" fill="#262626">−</text>
<text x="874.13" y="596.00" font-size="25.62" textLength="29.84" lengthAdjust="spacingAndGlyphs" fill="#262626">04</text>
<text x="937.29" y="576.20" font-size="31.50" font-weight="bold" textLength="13.34" lengthAdjust="spacingAndGlyphs" fill="#262626">f</text>
<line x1="121.2" y1="435.20" x2="121.2" y2="449.50" stroke="#262626" stroke-width="3.4"/>
<text x="113.13" y="481.30" font-size="28.72" textLength="16.14" lengthAdjust="spacingAndGlyphs" fill="#262626">0</text>
<line x1="316.4" y1="435.20" x2="316.4" y2="449.50" stroke="#262626" stroke-width="3.4"/>
<text x="290.39" y="481.30" font-size="28.72" textLength="50.92" lengthAdjust="spacingAndGlyphs" fill="#262626">100</text>
<text x="166.67" y="521.80" font-size="30.77" textLength="110.23" lengthAdjust="spacingAndGlyphs" fill="#262626">Density</text>
<line x1="495.6" y1="435.20" x2="495.6" y2="449.50" stroke="#262626" stroke-width="3.4"/>
<text x="488.10" y="481.30" font-size="28.72" textLength="15.11" lengthAdjust="spacingAndGlyphs" fill="#262626">5</text>
<line x1="631.1" y1="435.20" x2="631.1" y2="449.50" stroke="#262626" stroke-width="3.4"/>
<text x="613.88" y="481.30" font-size="28.72" textLength="33.37" lengthAdjust="spacingAndGlyphs" fill="#262626">10</text>
<text x="427.84" y="521.80" font-size="30.77" textLength="213.12" lengthAdjust="spacingAndGlyphs" fill="#262626">log(max. deg.)</text>
<line x1="745.4" y1="435.20" x2="745.4" y2="449.50" stroke="#262626" stroke-width="3.4"/>
<text x="724.40" y="481.30" font-size="28.72" textLength="41.84" lengthAdjust="spacingAndGlyphs" fill="#262626">2.5</text>
<line x1="867.7" y1="435.20" x2="867.7" y2="449.50" stroke="#262626" stroke-width="3.4"/>
<text x="846.71" y="481.30" font-size="28.72" textLength="41.95" lengthAdjust="spacingAndGlyphs" fill="#262626">5.0</text>
<text x="741.40" y="521.80" font-size="30.77" textLength="209.11" lengthAdjust="spacingAndGlyphs" fill="#262626">log(sp. radius)</text>
<line x1="121.6" y1="827.10" x2="121.6" y2="841.40" stroke="#262626" stroke-width="3.4"/>
<text x="113.53" y="873.20" font-size="28.72" textLength="16.14" lengthAdjust="spacingAndGlyphs" fill="#262626">0</text>
<line x1="333.8" y1="827.10" x2="333.8" y2="841.40" stroke="#262626" stroke-width="3.4"/>
<text x="325.84" y="873.20" font-size="28.72" textLength="15.19" lengthAdjust="spacingAndGlyphs" fill="#262626">1</text>
<text x="137.50" y="913.70" font-size="30.77" textLength="169.67" lengthAdjust="spacingAndGlyphs" fill="#262626">Nestedness</text>
<line x1="439.7" y1="827.10" x2="439.7" y2="841.40" stroke="#262626" stroke-width="3.4"/>
<text x="431.63" y="873.20" font-size="28.72" textLength="16.14" lengthAdjust="spacingAndGlyphs" fill="#262626">0</text>
<line x1="644.0" y1="827.10" x2="644.0" y2="841.40" stroke="#262626" stroke-width="3.4"/>
<text x="636.04" y="873.20" font-size="28.72" textLength="15.19" lengthAdjust="spacingAndGlyphs" fill="#262626">1</text>
<text x="440.02" y="913.70" font-size="30.77" textLength="190.16" lengthAdjust="spacingAndGlyphs" fill="#262626">CO deg. corr.</text>
<line x1="756.2" y1="827.10" x2="756.2" y2="841.40" stroke="#262626" stroke-width="3.4"/>
<text x="748.13" y="873.20" font-size="28.72" textLength="16.14" lengthAdjust="spacingAndGlyphs" fill="#262626">0</text>
<line x1="937.3" y1="827.10" x2="937.3" y2="841.40" stroke="#262626" stroke-width="3.4"/>
<text x="929.80" y="873.20" font-size="28.72" textLength="15.11" lengthAdjust="spacingAndGlyphs" fill="#262626">5</text>
<text x="723.95" y="913.70" font-size="30.77" textLength="244.08" lengthAdjust="spacingAndGlyphs" fill="#262626">log(deg. hetero.)</text>
<text transform="translate(22.20,390.71) rotate(-90)" x="-7.44" y="0" font-size="30.77" font-style="italic" textLength="16.79" lengthAdjust="spacingAndGlyphs" fill="#262626">χ</text>
<text transform="translate(22.20,286.65) rotate(-90)" x="-95.72" y="0" font-size="30.77" textLength="188.55" lengthAdjust="spacingAndGlyphs" fill="#262626">, Reducibility</text>
<text transform="translate(22.20,782.61) rotate(-90)" x="-7.44" y="0" font-size="30.77" font-style="italic" textLength="16.79" lengthAdjust="spacingAndGlyphs" fill="#262626">χ</text>
<text transform="translate(22.20,678.55) rotate(-90)" x="-95.72" y="0" font-size="30.77" textLength="188.55" lengthAdjust="spacingAndGlyphs" fill="#262626">, Reducibility</text>
</svg></body></html>
